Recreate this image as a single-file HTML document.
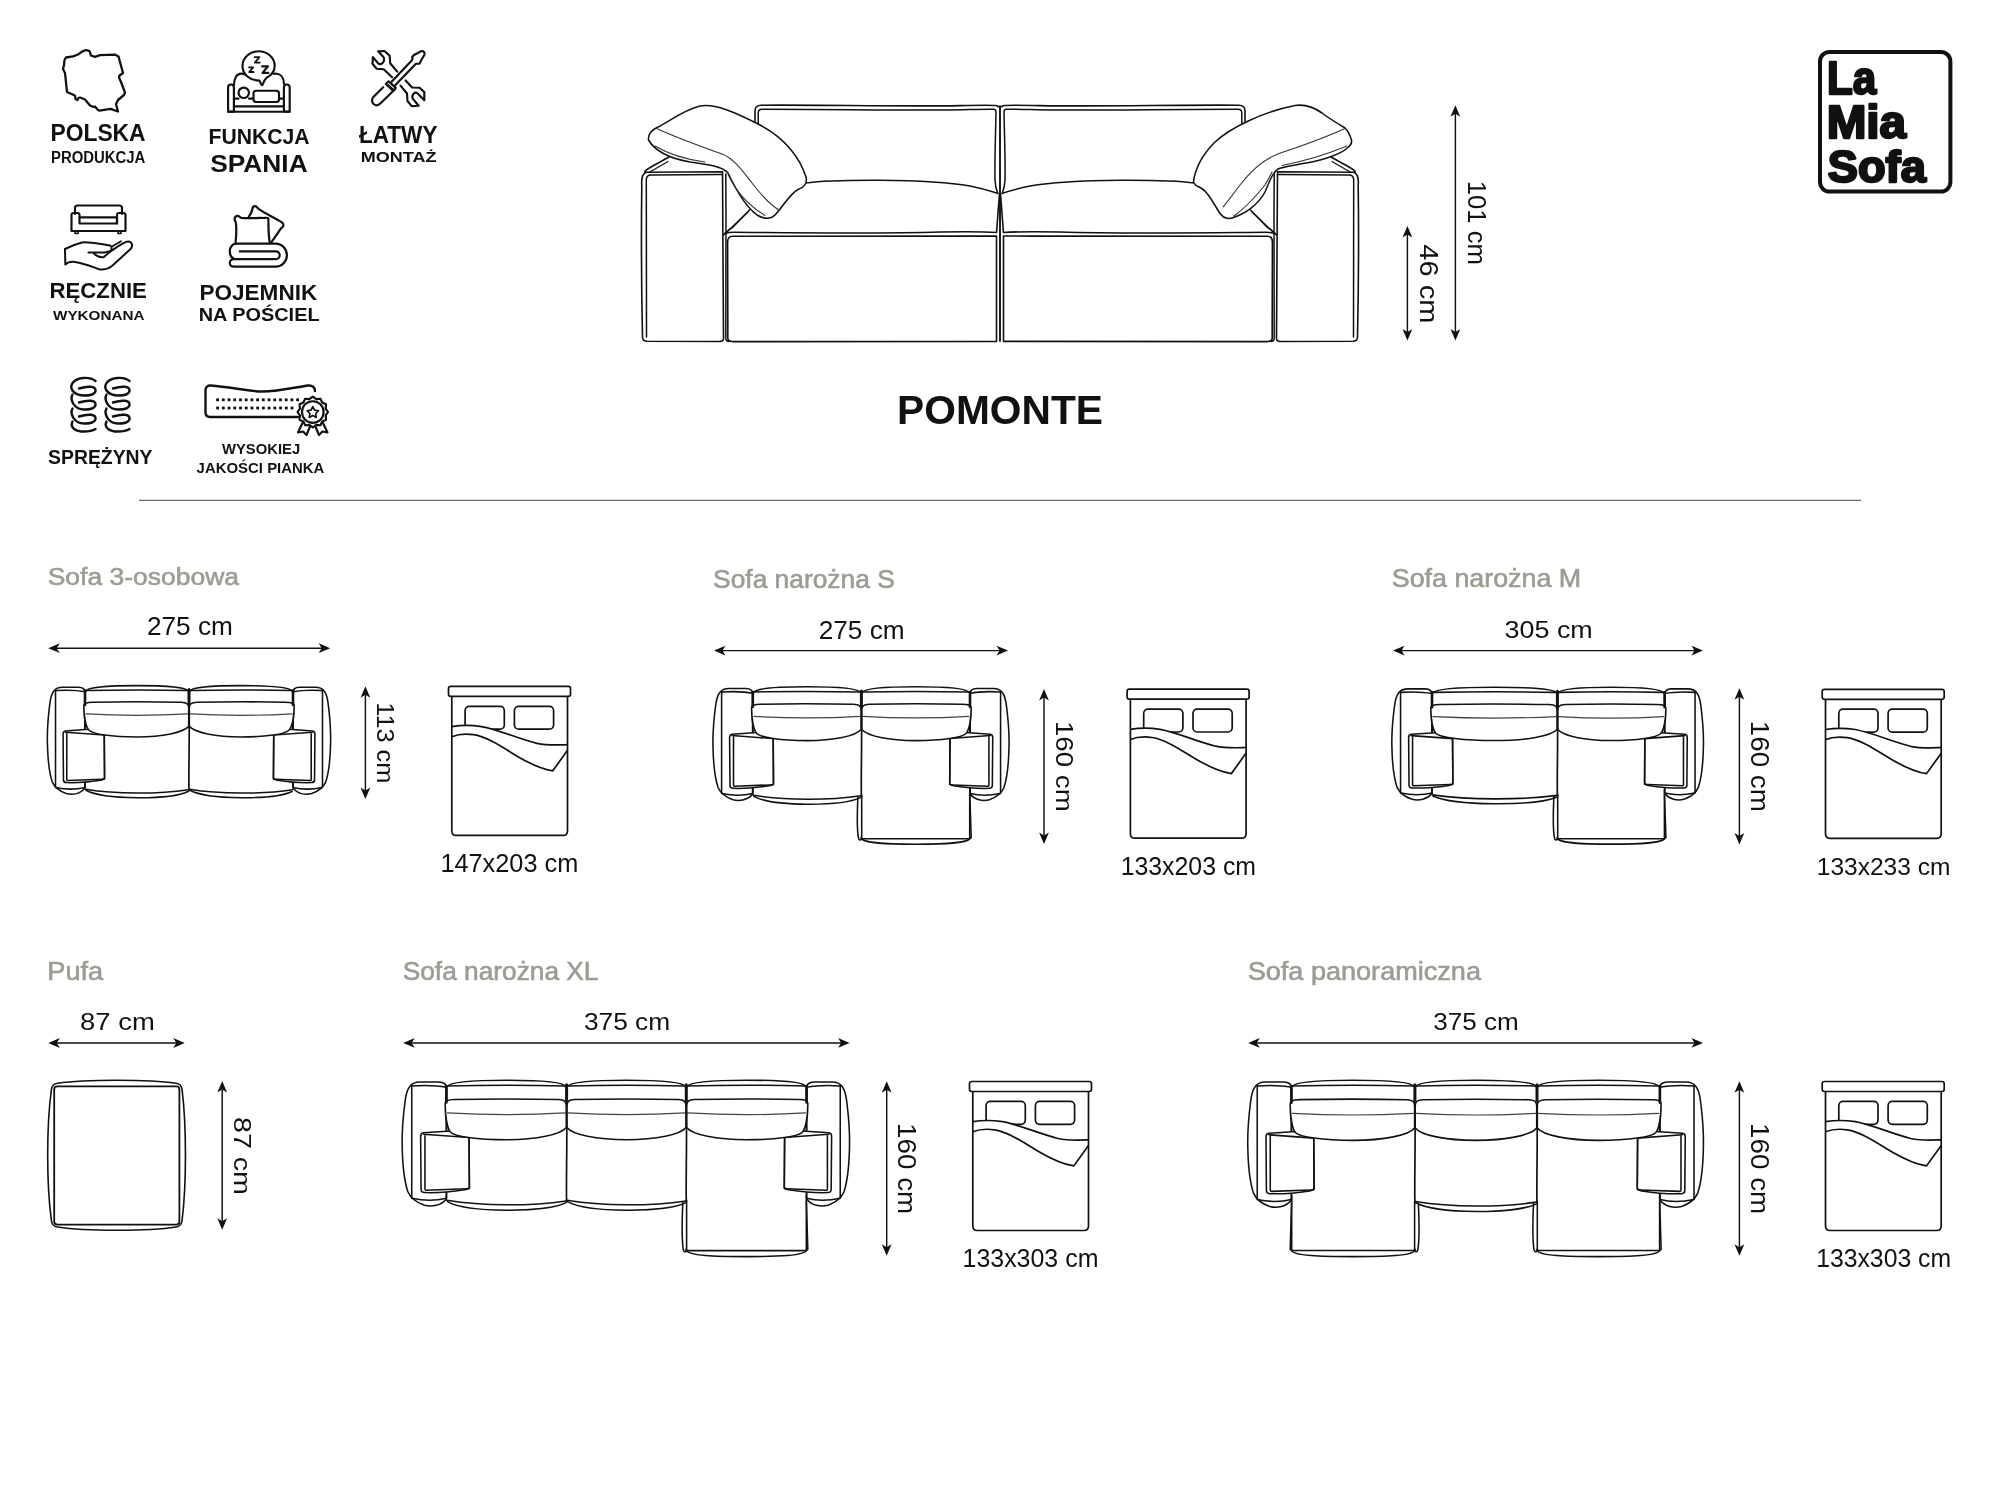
<!DOCTYPE html>
<html><head><meta charset="utf-8"><title>Pomonte</title>
<style>html,body{margin:0;padding:0;background:#fff;width:2000px;height:1500px;overflow:hidden}
text{font-family:"Liberation Sans",sans-serif}</style></head>
<body><svg width="2000" height="1500" viewBox="0 0 2000 1500" style="display:block;will-change:transform">
<defs><g id="bed">
<rect x="1" y="1" width="122" height="10" rx="2.2" fill="#fff" stroke="#111" stroke-width="1.7"/>
<rect x="17.6" y="20.9" width="39.2" height="22.9" rx="4.2" fill="none" stroke="#111" stroke-width="1.7"/>
<rect x="66.9" y="20.9" width="39.2" height="22.9" rx="4.2" fill="none" stroke="#111" stroke-width="1.7"/>
<path d="M4.3 41.2 C14 39.6 24 39.6 34 41.2 C50 44 70 53 89.5 58 C100 60.2 110 59.6 120 59.3 V150 H4.3 Z" fill="#fff"/>
<path d="M4.3 41.2 C14 39.6 24 39.6 34 41.2 C50 44 70 53 89.5 58 C100 60.2 110 59.6 120 59.3" fill="none" stroke="#111" stroke-width="1.7"/>
<path d="M4.3 51.3 C10 49 18 48.2 26 49.3 C40 51.5 55 62 70 71 C82 78 95 84 105.3 85.4 L120 64.9" fill="none" stroke="#111" stroke-width="1.7"/>
<path d="M4.3 11 V145.5 Q4.3 150 8.8 150 H115.5 Q120 150 120 145.5 V11" fill="none" stroke="#111" stroke-width="1.7"/>
</g></defs>
<rect width="2000" height="1500" fill="#fff"/>
<g font-family="Liberation Sans, sans-serif">
<text x="50.46" y="141.00" font-size="24.73" textLength="95.16" lengthAdjust="spacingAndGlyphs" font-weight="bold" fill="#111" >POLSKA</text><text x="50.99" y="163.00" font-size="16.00" textLength="94.40" lengthAdjust="spacingAndGlyphs" font-weight="bold" fill="#111" >PRODUKCJA</text><text x="208.57" y="144.00" font-size="21.82" textLength="101.02" lengthAdjust="spacingAndGlyphs" font-weight="bold" fill="#111" >FUNKCJA</text><text x="210.21" y="171.50" font-size="24.73" textLength="97.49" lengthAdjust="spacingAndGlyphs" font-weight="bold" fill="#111" >SPANIA</text><text x="359.00" y="143.00" font-size="23.27" textLength="78.41" lengthAdjust="spacingAndGlyphs" font-weight="bold" fill="#111" >ŁATWY</text><text x="360.78" y="161.80" font-size="14.98" textLength="75.72" lengthAdjust="spacingAndGlyphs" font-weight="bold" fill="#111" >MONTAŻ</text><text x="49.50" y="298.00" font-size="21.82" textLength="97.37" lengthAdjust="spacingAndGlyphs" font-weight="bold" fill="#111" >RĘCZNIE</text><text x="53.00" y="320.30" font-size="13.53" textLength="91.41" lengthAdjust="spacingAndGlyphs" font-weight="bold" fill="#111" >WYKONANA</text><text x="199.48" y="300.00" font-size="22.55" textLength="117.76" lengthAdjust="spacingAndGlyphs" font-weight="bold" fill="#111" >POJEMNIK</text><text x="198.66" y="320.50" font-size="18.18" textLength="120.94" lengthAdjust="spacingAndGlyphs" font-weight="bold" fill="#111" >NA POŚCIEL</text><text x="48.02" y="463.60" font-size="19.93" textLength="104.52" lengthAdjust="spacingAndGlyphs" font-weight="bold" fill="#111" >SPRĘŻYNY</text><text x="222.00" y="454.40" font-size="15.13" textLength="78.22" lengthAdjust="spacingAndGlyphs" font-weight="bold" fill="#111" >WYSOKIEJ</text><text x="196.58" y="473.20" font-size="15.13" textLength="127.83" lengthAdjust="spacingAndGlyphs" font-weight="bold" fill="#111" >JAKOŚCI PIANKA</text><text x="897.05" y="424.20" font-size="40.73" textLength="205.91" lengthAdjust="spacingAndGlyphs" font-weight="bold" fill="#111" >POMONTE</text><text x="47.71" y="584.90" font-size="24.80" textLength="191.28" lengthAdjust="spacingAndGlyphs" font-weight="normal" fill="#9b9d94" stroke="#9b9d94" stroke-width="0.6">Sofa 3-osobowa</text><text x="713.11" y="587.75" font-size="25.81" textLength="181.60" lengthAdjust="spacingAndGlyphs" font-weight="normal" fill="#9b9d94" stroke="#9b9d94" stroke-width="0.6">Sofa narożna S</text><text x="1391.79" y="587.40" font-size="24.95" textLength="189.41" lengthAdjust="spacingAndGlyphs" font-weight="normal" fill="#9b9d94" stroke="#9b9d94" stroke-width="0.6">Sofa narożna M</text><text x="47.26" y="980.00" font-size="25.09" textLength="55.93" lengthAdjust="spacingAndGlyphs" font-weight="normal" fill="#9b9d94" stroke="#9b9d94" stroke-width="0.6">Pufa</text><text x="402.72" y="980.00" font-size="25.09" textLength="195.73" lengthAdjust="spacingAndGlyphs" font-weight="normal" fill="#9b9d94" stroke="#9b9d94" stroke-width="0.6">Sofa narożna XL</text><text x="1247.68" y="980.00" font-size="25.09" textLength="233.29" lengthAdjust="spacingAndGlyphs" font-weight="normal" fill="#9b9d94" stroke="#9b9d94" stroke-width="0.6">Sofa panoramiczna</text><text x="146.99" y="635.40" font-size="25.38" textLength="85.90" lengthAdjust="spacingAndGlyphs" font-weight="normal" fill="#111" >275 cm</text><text x="818.69" y="638.60" font-size="25.23" textLength="86.00" lengthAdjust="spacingAndGlyphs" font-weight="normal" fill="#111" >275 cm</text><text x="1504.59" y="638.00" font-size="24.37" textLength="88.14" lengthAdjust="spacingAndGlyphs" font-weight="normal" fill="#111" >305 cm</text><text x="80.13" y="1029.50" font-size="24.80" textLength="74.67" lengthAdjust="spacingAndGlyphs" font-weight="normal" fill="#111" >87 cm</text><text x="583.91" y="1029.70" font-size="24.09" textLength="86.18" lengthAdjust="spacingAndGlyphs" font-weight="normal" fill="#111" >375 cm</text><text x="1433.22" y="1029.70" font-size="24.09" textLength="85.45" lengthAdjust="spacingAndGlyphs" font-weight="normal" fill="#111" >375 cm</text><text x="440.40" y="872.10" font-size="25.75" textLength="137.85" lengthAdjust="spacingAndGlyphs" font-weight="normal" fill="#111" >147x203 cm</text><text x="1120.64" y="875.10" font-size="25.45" textLength="135.39" lengthAdjust="spacingAndGlyphs" font-weight="normal" fill="#111" >133x203 cm</text><text x="1816.76" y="874.60" font-size="24.44" textLength="133.64" lengthAdjust="spacingAndGlyphs" font-weight="normal" fill="#111" >133x233 cm</text><text x="962.53" y="1266.70" font-size="24.87" textLength="135.90" lengthAdjust="spacingAndGlyphs" font-weight="normal" fill="#111" >133x303 cm</text><text x="1816.14" y="1266.70" font-size="24.87" textLength="134.98" lengthAdjust="spacingAndGlyphs" font-weight="normal" fill="#111" >133x303 cm</text><text transform="translate(1467.50 180.77) rotate(90)" x="0" y="0" font-size="26.47" textLength="84.18" lengthAdjust="spacingAndGlyphs" font-weight="normal" fill="#111" >101 cm</text><text transform="translate(1419.90 244.35) rotate(90)" x="0" y="0" font-size="25.16" textLength="78.96" lengthAdjust="spacingAndGlyphs" font-weight="normal" fill="#111" >46 cm</text><text transform="translate(377.30 702.20) rotate(90)" x="0" y="0" font-size="24.29" textLength="81.04" lengthAdjust="spacingAndGlyphs" font-weight="normal" fill="#111" >113 cm</text><text transform="translate(1056.00 720.92) rotate(90)" x="0" y="0" font-size="24.73" textLength="90.86" lengthAdjust="spacingAndGlyphs" font-weight="normal" fill="#111" >160 cm</text><text transform="translate(1750.80 720.71) rotate(90)" x="0" y="0" font-size="25.60" textLength="91.17" lengthAdjust="spacingAndGlyphs" font-weight="normal" fill="#111" >160 cm</text><text transform="translate(233.90 1117.09) rotate(90)" x="0" y="0" font-size="24.52" textLength="77.79" lengthAdjust="spacingAndGlyphs" font-weight="normal" fill="#111" >87 cm</text><text transform="translate(898.10 1123.11) rotate(90)" x="0" y="0" font-size="25.60" textLength="91.17" lengthAdjust="spacingAndGlyphs" font-weight="normal" fill="#111" >160 cm</text><text transform="translate(1750.80 1123.11) rotate(90)" x="0" y="0" font-size="25.60" textLength="91.17" lengthAdjust="spacingAndGlyphs" font-weight="normal" fill="#111" >160 cm</text>
<rect x="1820" y="52" width="130.4" height="139.6" rx="9.5" fill="none" stroke="#111" stroke-width="4"/><text x="1827.05" y="94.30" font-size="46.98" textLength="49.22" lengthAdjust="spacingAndGlyphs" font-weight="bold" fill="#111" stroke="#111" stroke-width="2.4" stroke-linejoin="round">La</text><text x="1826.68" y="138.00" font-size="46.25" textLength="79.46" lengthAdjust="spacingAndGlyphs" font-weight="bold" fill="#111" stroke="#111" stroke-width="2.4" stroke-linejoin="round">Mia</text><text x="1827.84" y="181.80" font-size="44.28" textLength="98.01" lengthAdjust="spacingAndGlyphs" font-weight="bold" fill="#111" stroke="#111" stroke-width="2.4" stroke-linejoin="round">Sofa</text>
</g>
<path d="M64.5 60.0 L66.0 57.5 L73.0 56.3 L78.0 54.5 L82.0 51.6 L86.0 50.0 L89.5 51.2 L91.0 55.5 L95.0 56.8 L100.0 55.2 L115.0 54.6 L118.5 56.5 L123.0 73.0 L119.5 75.5 L119.0 77.5 L121.0 82.0 L125.0 92.5 L124.0 95.0 L118.0 100.0 L116.0 104.0 L118.0 111.5 L110.5 108.8 L99.5 110.6 L98.0 110.0 L95.0 106.5 L93.5 107.0 L90.0 105.5 L85.0 99.5 L80.0 97.5 L78.5 98.0 L77.5 100.0 L75.5 99.0 L75.0 95.5 L67.0 92.0 L65.0 73.0 L63.0 69.0 L64.0 65.0 Z" fill="none" stroke="#111" stroke-width="2.3" stroke-linecap="round" stroke-linejoin="round" /><path d="M234 85 C234 78 237 73.8 241 73.6 C242.5 73.5 243.5 73.8 244.3 74.3" fill="none" stroke="#111" stroke-width="2.15" stroke-linecap="round" stroke-linejoin="round" /><path d="M273.3 73.8 C274 73.6 274.8 73.5 275.8 73.5 C280.5 73.8 284 77.5 284 84" fill="none" stroke="#111" stroke-width="2.15" stroke-linecap="round" stroke-linejoin="round" /><path d="M228.1 111.6 V87.5 C228.1 85.6 229.4 84.5 231 84.5 C232.6 84.5 233.9 85.6 233.9 87.5 V111.6 Z" fill="none" stroke="#111" stroke-width="2.15" stroke-linecap="round" stroke-linejoin="round" /><path d="M283.9 111.6 V87.5 C283.9 85.6 285.2 84.5 286.8 84.5 C288.4 84.5 289.7 85.6 289.7 87.5 V111.6 Z" fill="none" stroke="#111" stroke-width="2.15" stroke-linecap="round" stroke-linejoin="round" /><path d="M228.1 111.8 H289.7" fill="none" stroke="#111" stroke-width="2.0" stroke-linecap="round" stroke-linejoin="round" /><path d="M233.9 106.4 H283.9" fill="none" stroke="#111" stroke-width="2.15" stroke-linecap="round" stroke-linejoin="round" /><path d="M233.9 98.6 H238.5 M249 98.6 H253.5 M279 98.6 H283.9" fill="none" stroke="#111" stroke-width="2.15" stroke-linecap="round" stroke-linejoin="round" /><circle cx="243.75" cy="92.8" r="5.2" fill="#fff" stroke="#111" stroke-width="2.15"/><path d="M256.3 90.7 H276.2 Q279 90.7 279 93.5 V99.2 Q279 102 276.2 102 H256.3 Q253.5 102 253.5 99.2 V93.5 Q253.5 90.7 256.3 90.7 Z" fill="#fff" stroke="#111" stroke-width="2.15" stroke-linecap="round" stroke-linejoin="round" /><path d="M259.5 80.6 L261.3 84.6 C261.6 85.3 262.3 85.3 262.6 84.6 C263.5 82 264.8 79.5 266.5 77.8 C271.5 75.2 274.7 70.8 274.7 66 C274.7 57.7 267.5 51.2 258.6 51.2 C249.7 51.2 242.5 57.7 242.5 66 C242.5 74 249 80.3 259.5 80.6 Z" fill="#fff" stroke="#111" stroke-width="2.15" stroke-linecap="round" stroke-linejoin="round" /><path d="M254.6 57.1 H259.4 L254.9 62.6 H259.8" fill="none" stroke="#111" stroke-width="1.8" stroke-linecap="round" stroke-linejoin="round" /><path d="M249 67.3 H253.2 L249.2 72 H253.6" fill="none" stroke="#111" stroke-width="1.8" stroke-linecap="round" stroke-linejoin="round" /><path d="M262.1 66.3 H268 L262.5 72.9 H268.4" fill="none" stroke="#111" stroke-width="2.15" stroke-linecap="round" stroke-linejoin="round" /><path d="M397.2 71.6 L390.2 63.2 L389.7 55.7 L384.6 51.1 L378.1 51.3 L383.2 56.7 C384.6 58.5 384.3 61.6 382.5 63.1 C381 64.3 379 64.1 378.1 63.2 L372.9 57.1 L372.5 63.7 L376.7 68.8 L383.7 69.3 L392.1 77.2" fill="none" stroke="#111" stroke-width="2.15" stroke-linecap="round" stroke-linejoin="round" /><path d="M405.6 80.5 L412.1 87.5 L419.6 87.7 L424.3 92.1 L424.3 100.3 L417.7 93.5 C416.2 92.4 414.2 92.8 413.1 94.3 C412.1 95.8 412.2 97.8 413.1 99.1 L418.7 105.7 L411.7 106.1 L407.5 101 L407 93.5 L400.5 85.6" fill="none" stroke="#111" stroke-width="2.15" stroke-linecap="round" stroke-linejoin="round" /><path d="M383.2 87.2 L373.4 97 C371.5 99 371.6 102.3 373.6 104 C375.7 105.7 378.5 105.4 380.3 103.6 L395.3 88.9" fill="none" stroke="#111" stroke-width="2.15" stroke-linecap="round" stroke-linejoin="round" /><path d="M385.8 84 L388.6 81.4 L395.8 87.9 L393 90.7 Z" fill="none" stroke="#111" stroke-width="2.15" stroke-linecap="round" stroke-linejoin="round" /><path d="M387.9 84.4 L393.6 89.6" fill="none" stroke="#111" stroke-width="1.3" stroke-linecap="round" stroke-linejoin="round" /><path d="M391.1 82.3 L411.7 60.4 L412.6 58.6 L412.2 57 L413.6 55.3 L421 51.3 C422.4 50.7 423.9 51.4 424.4 52.8 C424.7 53.6 424.6 54.4 424.3 55 L420.1 62.3 L419.6 63.7 L415.9 63.7 L394.9 85.6" fill="none" stroke="#111" stroke-width="2.15" stroke-linecap="round" stroke-linejoin="round" /><path d="M75 214 V208 C75 206.5 76 205.5 77.5 205.5 H119.5 C121 205.5 122 206.5 122 208 V214" fill="none" stroke="#111" stroke-width="2.15" stroke-linecap="round" stroke-linejoin="round" /><path d="M71.5 231 V215 C71.5 213.8 72.3 213 73.5 213 H77.5 C78.7 213 79.5 213.8 79.5 215 V223.5 H117 V215 C117 213.8 117.8 213 119 213 H123.5 C124.7 213 125.5 213.8 125.5 215 V231 Z" fill="none" stroke="#111" stroke-width="2.15" stroke-linecap="round" stroke-linejoin="round" /><path d="M79.5 217.3 H117 V223.5" fill="none" stroke="#111" stroke-width="2.15" stroke-linecap="round" stroke-linejoin="round" /><path d="M75 231 V233.5 H78 V231 M118 231 V233.5 H121 V231" fill="none" stroke="#111" stroke-width="1.6" stroke-linecap="round" stroke-linejoin="round" /><path d="M65 249 C65 255 65.3 260 65.3 264.5 C68 262 71 261.5 75 262 C85 263.5 95 268 100 269.5 C104 270 108 269 112 266 L130.5 249 C133.5 246 132 241.5 128 241.5 C124 241.5 115 248.5 110.5 251.5 C108 253.5 106 255 104 257 C101 257.5 97 256.5 94 253.5" fill="none" stroke="#111" stroke-width="2.0" stroke-linecap="round" stroke-linejoin="round" /><path d="M65 249 C70 246.5 78 243.5 82 242.5 C86 241.8 95 243 110 245.5 C112 246 112.5 250 110 251" fill="none" stroke="#111" stroke-width="2.0" stroke-linecap="round" stroke-linejoin="round" /><path d="M88.5 252.5 H104 C106 252.5 107 252 108 251.5" fill="none" stroke="#111" stroke-width="2.15" stroke-linecap="round" stroke-linejoin="round" /><path d="M112 246.5 L121 241.2" fill="none" stroke="#111" stroke-width="1.8" stroke-linecap="round" stroke-linejoin="round" /><path d="M249 216.3 C250.5 214 252 212 252.3 209.5 C252.5 207.5 253.6 206.2 255 206.2 C256.5 206.2 257.3 207.3 258 208.4 C259 209.8 266 213.5 281.2 221.9 C283.5 223 284 225.5 282.6 227 C281.5 228 280.6 228.6 280 229.8 L271.5 242.2" fill="none" stroke="#111" stroke-width="2.2" stroke-linecap="round" stroke-linejoin="round" /><path d="M235.6 242.2 C236.3 236 236.5 229 236 223.5 C235.8 221.5 234.6 220.8 234.6 219.2 C234.6 217 236 215.8 237.8 215.8 C239.2 215.8 239.8 217.6 241.3 217.9 C249 218.6 256 217.8 263.5 218 C265.5 218 267 217.2 268.4 218.3 C268.3 226 268.6 235 269.6 242.2" fill="#fff" stroke="#111" stroke-width="2.2" stroke-linecap="round" stroke-linejoin="round" /><path d="M236 243.7 H275.8 C281.9 243.7 286.9 248.9 286.9 255.2 C286.9 261.5 281.9 266.7 275.8 266.7 H233.6 C231.5 266.7 229.8 265.2 229.8 263.1 C229.8 261 231.5 259.2 233.6 259.2 H275.8 C278 259.2 279.7 257.5 279.7 255.3 C279.7 253.1 278 251.4 275.8 251.4 H239.8" fill="none" stroke="#111" stroke-width="2.2" stroke-linecap="round" stroke-linejoin="round" /><path d="M236 243.7 C232.5 243.9 229.8 247 229.8 251 C229.8 254.8 231.5 257.6 233.6 258.5" fill="none" stroke="#111" stroke-width="2.2" stroke-linecap="round" stroke-linejoin="round" /><g transform="translate(0 0)"><path d="M95.5 381 C90 376.5 76 376.5 72 384 C69 390 76 395.5 84 395.5 C92 395.5 96 393.5 95.5 390 C95 386.5 89 385.5 79 388.5 M72.5 394.5 C69.5 400 74.5 409.5 84 409.5 C92 409.5 96 407.5 95.5 404 C95 400.5 89 399.5 79 402.5 M72.5 408.5 C69.5 414 74.5 423.5 84 423.5 C92 423.5 96 421.5 95.5 418 C95 414.5 89 413.5 79 416.5 M72.5 421.5 C69.5 428 76 431.5 84 431.5 C89 431.5 93 430.5 95.5 429" fill="none" stroke="#111" stroke-width="2.4" stroke-linecap="round" stroke-linejoin="round" /></g><g transform="translate(34 0)"><path d="M95.5 381 C90 376.5 76 376.5 72 384 C69 390 76 395.5 84 395.5 C92 395.5 96 393.5 95.5 390 C95 386.5 89 385.5 79 388.5 M72.5 394.5 C69.5 400 74.5 409.5 84 409.5 C92 409.5 96 407.5 95.5 404 C95 400.5 89 399.5 79 402.5 M72.5 408.5 C69.5 414 74.5 423.5 84 423.5 C92 423.5 96 421.5 95.5 418 C95 414.5 89 413.5 79 416.5 M72.5 421.5 C69.5 428 76 431.5 84 431.5 C89 431.5 93 430.5 95.5 429" fill="none" stroke="#111" stroke-width="2.4" stroke-linecap="round" stroke-linejoin="round" /></g><path d="M298 417 H210 C207 417 205.5 415 205.5 412 V390.5 C205.5 387 207.5 385.3 211 385.5 C230 387 250 391.5 262 391.5 C278 391.5 295 387.5 308 385.5 C312.5 385 315 387.5 315 391" fill="none" stroke="#111" stroke-width="2.4" stroke-linecap="round" stroke-linejoin="round" /><rect x="216.20" y="398.4" width="2.8" height="2.8" fill="#111"/><rect x="221.91" y="398.4" width="2.8" height="2.8" fill="#111"/><rect x="227.63" y="398.4" width="2.8" height="2.8" fill="#111"/><rect x="233.34" y="398.4" width="2.8" height="2.8" fill="#111"/><rect x="239.06" y="398.4" width="2.8" height="2.8" fill="#111"/><rect x="244.77" y="398.4" width="2.8" height="2.8" fill="#111"/><rect x="250.49" y="398.4" width="2.8" height="2.8" fill="#111"/><rect x="256.20" y="398.4" width="2.8" height="2.8" fill="#111"/><rect x="261.91" y="398.4" width="2.8" height="2.8" fill="#111"/><rect x="267.63" y="398.4" width="2.8" height="2.8" fill="#111"/><rect x="273.34" y="398.4" width="2.8" height="2.8" fill="#111"/><rect x="279.06" y="398.4" width="2.8" height="2.8" fill="#111"/><rect x="284.77" y="398.4" width="2.8" height="2.8" fill="#111"/><rect x="290.49" y="398.4" width="2.8" height="2.8" fill="#111"/><rect x="296.20" y="398.4" width="2.8" height="2.8" fill="#111"/><rect x="216.20" y="406.6" width="2.8" height="2.8" fill="#111"/><rect x="221.92" y="406.6" width="2.8" height="2.8" fill="#111"/><rect x="227.65" y="406.6" width="2.8" height="2.8" fill="#111"/><rect x="233.37" y="406.6" width="2.8" height="2.8" fill="#111"/><rect x="239.09" y="406.6" width="2.8" height="2.8" fill="#111"/><rect x="244.82" y="406.6" width="2.8" height="2.8" fill="#111"/><rect x="250.54" y="406.6" width="2.8" height="2.8" fill="#111"/><rect x="256.26" y="406.6" width="2.8" height="2.8" fill="#111"/><rect x="261.98" y="406.6" width="2.8" height="2.8" fill="#111"/><rect x="267.71" y="406.6" width="2.8" height="2.8" fill="#111"/><rect x="273.43" y="406.6" width="2.8" height="2.8" fill="#111"/><rect x="279.15" y="406.6" width="2.8" height="2.8" fill="#111"/><rect x="284.88" y="406.6" width="2.8" height="2.8" fill="#111"/><rect x="290.60" y="406.6" width="2.8" height="2.8" fill="#111"/><path d="M302.5 423 L298 432.5 L303 431.5 L306.5 435 L310 426.5" fill="#fff" stroke="#111" stroke-width="2.15" stroke-linecap="round" stroke-linejoin="round" /><path d="M323 423 L327.5 432.5 L322.5 431.5 L319 435 L315.5 426.5" fill="#fff" stroke="#111" stroke-width="2.15" stroke-linecap="round" stroke-linejoin="round" /><path d="M312.80 396.70 316.24 399.15 320.45 398.75 322.20 402.60 326.05 404.35 325.65 408.56 328.10 412.00 325.65 415.44 326.05 419.65 322.20 421.40 320.45 425.25 316.24 424.85 312.80 427.30 309.36 424.85 305.15 425.25 303.40 421.40 299.55 419.65 299.95 415.44 297.50 412.00 299.95 408.56 299.55 404.35 303.40 402.60 305.15 398.75 309.36 399.15Z" fill="#fff" stroke="#111" stroke-width="2.15" stroke-linecap="round" stroke-linejoin="round" /><circle cx="312.8" cy="412" r="10.8" fill="none" stroke="#111" stroke-width="2.15"/><path d="M312.80 406.60 314.56 410.17 318.51 410.75 315.65 413.53 316.33 417.45 312.80 415.60 309.27 417.45 309.95 413.53 307.09 410.75 311.04 410.17Z" fill="none" stroke="#111" stroke-width="1.7" stroke-linecap="round" stroke-linejoin="round" />
<g><path d="M755 130 V111 C755 107 757 105.2 761 105.2 C820 104.6 900 106.8 960 105.6 C975 105.3 990 105 996 105.5 L999.5 107" fill="none" stroke="#111" stroke-width="1.6" stroke-linecap="round" stroke-linejoin="round" /><path d="M758.2 130 V113 C758.2 110.5 759.5 109.3 762 109.3 C830 109.3 900 110.5 950 110 C970 109.6 985 109 993.5 109.2 C995.5 109.3 996 110.5 996 112 C995.5 140 994.5 160 995 180 C995.2 186 996.5 190 997.5 192.5" fill="none" stroke="#111" stroke-width="1.5" stroke-linecap="round" stroke-linejoin="round" /><path d="M1000 106 V341" fill="none" stroke="#111" stroke-width="1.5" stroke-linecap="round" stroke-linejoin="round" /><path d="M644.5 172 C646 170 648 168.5 651 167 L669 157" fill="none" stroke="#111" stroke-width="1.55" stroke-linecap="round" stroke-linejoin="round" /><path d="M649 172.5 L668 161.5" fill="none" stroke="#111" stroke-width="1.2" stroke-linecap="round" stroke-linejoin="round" /><path d="M641.8 185 C641.2 178 642.5 173 647 172.2 L722.5 171.8 L723.5 338 C723.5 340.5 722.5 341.5 720 341.5 L647 341.3 C644 341.2 642.6 340 642.5 337 C641.5 290 641.2 230 641.8 185 Z" fill="#fff" stroke="#111" stroke-width="1.6" stroke-linecap="round" stroke-linejoin="round" /><path d="M646.5 337 L646.3 180 C646.3 176.5 647.8 175 651 175 L721.5 174.5" fill="none" stroke="#111" stroke-width="1.5" stroke-linecap="round" stroke-linejoin="round" /><path d="M725.8 174 C726.2 230 726 290 725.8 338 C725.8 340.5 727 341.5 729 341.5" fill="none" stroke="#111" stroke-width="1.5" stroke-linecap="round" stroke-linejoin="round" /><path d="M999.6 193.5 C998.5 205 997.5 220 996.6 232" fill="none" stroke="#111" stroke-width="1.6" stroke-linecap="round" stroke-linejoin="round" /><path d="M727.8 338 C728 300 727.5 260 727.6 242 C727.6 238.5 729 236.3 732.5 236.2 C800 235.5 900 236.5 996.5 236 L996.5 341.4 L733 341.6 C729.8 341.6 727.8 340.5 727.8 338 Z" fill="#fff" stroke="#111" stroke-width="1.6" stroke-linecap="round" stroke-linejoin="round" /><path d="M725 233.5 C728 232.5 731 232.2 735 232.3 C800 232.8 880 233.8 940 232 C970 231.5 990 232 996.5 232.5" fill="none" stroke="#111" stroke-width="1.6" stroke-linecap="round" stroke-linejoin="round" /><path d="M723.5 235 C727 231 730 229.5 733 227 L751 208.5" fill="none" stroke="#111" stroke-width="1.6" stroke-linecap="round" stroke-linejoin="round" /><path d="M727.5 231.2 L748 212" fill="none" stroke="#111" stroke-width="1.2" stroke-linecap="round" stroke-linejoin="round" /><path d="M805 183 C820 181 850 180 880 180.2 C920 180.6 950 182.5 970 186 C985 189 992 191.5 998 193.5" fill="none" stroke="#111" stroke-width="1.55" stroke-linecap="round" stroke-linejoin="round" /></g><g transform="matrix(-1 0 0 1 2000 0)"><path d="M755 130 V111 C755 107 757 105.2 761 105.2 C820 104.6 900 106.8 960 105.6 C975 105.3 990 105 996 105.5 L999.5 107" fill="none" stroke="#111" stroke-width="1.6" stroke-linecap="round" stroke-linejoin="round" /><path d="M758.2 130 V113 C758.2 110.5 759.5 109.3 762 109.3 C830 109.3 900 110.5 950 110 C970 109.6 985 109 993.5 109.2 C995.5 109.3 996 110.5 996 112 C995.5 140 994.5 160 995 180 C995.2 186 996.5 190 997.5 192.5" fill="none" stroke="#111" stroke-width="1.5" stroke-linecap="round" stroke-linejoin="round" /><path d="M1000 106 V341" fill="none" stroke="#111" stroke-width="1.5" stroke-linecap="round" stroke-linejoin="round" /><path d="M644.5 172 C646 170 648 168.5 651 167 L669 157" fill="none" stroke="#111" stroke-width="1.55" stroke-linecap="round" stroke-linejoin="round" /><path d="M649 172.5 L668 161.5" fill="none" stroke="#111" stroke-width="1.2" stroke-linecap="round" stroke-linejoin="round" /><path d="M641.8 185 C641.2 178 642.5 173 647 172.2 L722.5 171.8 L723.5 338 C723.5 340.5 722.5 341.5 720 341.5 L647 341.3 C644 341.2 642.6 340 642.5 337 C641.5 290 641.2 230 641.8 185 Z" fill="#fff" stroke="#111" stroke-width="1.6" stroke-linecap="round" stroke-linejoin="round" /><path d="M646.5 337 L646.3 180 C646.3 176.5 647.8 175 651 175 L721.5 174.5" fill="none" stroke="#111" stroke-width="1.5" stroke-linecap="round" stroke-linejoin="round" /><path d="M725.8 174 C726.2 230 726 290 725.8 338 C725.8 340.5 727 341.5 729 341.5" fill="none" stroke="#111" stroke-width="1.5" stroke-linecap="round" stroke-linejoin="round" /><path d="M999.6 193.5 C998.5 205 997.5 220 996.6 232" fill="none" stroke="#111" stroke-width="1.6" stroke-linecap="round" stroke-linejoin="round" /><path d="M727.8 338 C728 300 727.5 260 727.6 242 C727.6 238.5 729 236.3 732.5 236.2 C800 235.5 900 236.5 996.5 236 L996.5 341.4 L733 341.6 C729.8 341.6 727.8 340.5 727.8 338 Z" fill="#fff" stroke="#111" stroke-width="1.6" stroke-linecap="round" stroke-linejoin="round" /><path d="M725 233.5 C728 232.5 731 232.2 735 232.3 C800 232.8 880 233.8 940 232 C970 231.5 990 232 996.5 232.5" fill="none" stroke="#111" stroke-width="1.6" stroke-linecap="round" stroke-linejoin="round" /><path d="M723.5 235 C727 231 730 229.5 733 227 L751 208.5" fill="none" stroke="#111" stroke-width="1.6" stroke-linecap="round" stroke-linejoin="round" /><path d="M727.5 231.2 L748 212" fill="none" stroke="#111" stroke-width="1.2" stroke-linecap="round" stroke-linejoin="round" /><path d="M805 183 C820 181 850 180 880 180.2 C920 180.6 950 182.5 970 186 C985 189 992 191.5 998 193.5" fill="none" stroke="#111" stroke-width="1.55" stroke-linecap="round" stroke-linejoin="round" /></g><path d="M648.5 140 C648 135 651 130.5 657 127.5 C667 123 683 110 700 106 C715 103.5 735 112 760 125 C785 138 800 158 806 177 C807.5 183 804 187.5 798 189.5 C790 193.5 782 208 775 215 C770 220 764 219 757 215 C745 206 736 190 728 173 C722 166 705 164 690 162 C670 158.5 655 151 648.5 140 Z" fill="#fff" stroke="#111" stroke-width="1.55" stroke-linecap="round" stroke-linejoin="round" /><path d="M656.5 128.5 C680 139 705 148 722 154 C733 158 742 170 752 183 C762 196 772 206 779 210" fill="none" stroke="#333" stroke-width="1.1" stroke-linecap="round" stroke-linejoin="round" /><path d="M655 146 C670 155 690 160 705 162" fill="none" stroke="#333" stroke-width="1.1" stroke-linecap="round" stroke-linejoin="round" /><path d="M728 174 C735 190 748 205 765 215.5" fill="none" stroke="#333" stroke-width="1.1" stroke-linecap="round" stroke-linejoin="round" /><path d="M1193.5 181 C1196 165 1205 152 1215 142 C1230 128 1262 112 1295 105.5 C1305 104 1315 108 1322 113 C1330 119 1340 125 1345 128 C1348 131 1350 135 1351.5 140 C1352 143 1350 146 1348 147.5 C1340 155 1320 161 1300 164 C1290 166 1282 167 1278 169 C1273 172 1270 180 1265 192 C1258 205 1245 214 1232 218 C1226 219.5 1222 217 1219 212 C1212 200 1206 190 1200 187.5 C1196 186 1193.5 184 1193.5 181 Z" fill="#fff" stroke="#111" stroke-width="1.55" stroke-linecap="round" stroke-linejoin="round" /><path d="M1345 128.5 C1320 140 1295 148 1278 154 C1262 160 1250 172 1240 185 C1232 196 1227 202 1223 207" fill="none" stroke="#333" stroke-width="1.1" stroke-linecap="round" stroke-linejoin="round" /><path d="M1347 146 C1325 155 1300 162 1282 165.5" fill="none" stroke="#333" stroke-width="1.1" stroke-linecap="round" stroke-linejoin="round" /><path d="M1234 216 C1245 208 1257 195 1265 185 C1268 180 1270 176 1272 172" fill="none" stroke="#333" stroke-width="1.1" stroke-linecap="round" stroke-linejoin="round" />
<line x1="139" y1="500.4" x2="1861.2" y2="500.4" stroke="#6a6a6a" stroke-width="1.2"/>
<line x1="1455.40" y1="111.30" x2="1455.40" y2="334.40" stroke="#111" stroke-width="1.45"/><path d="M1455.40 105.30 L1450.50 116.80 L1455.40 113.80 L1460.30 116.80 Z" fill="#111"/><path d="M1455.40 340.40 L1450.50 328.90 L1455.40 331.90 L1460.30 328.90 Z" fill="#111"/><line x1="1407.40" y1="232.00" x2="1407.40" y2="334.40" stroke="#111" stroke-width="1.45"/><path d="M1407.40 226.00 L1402.50 237.50 L1407.40 234.50 L1412.30 237.50 Z" fill="#111"/><path d="M1407.40 340.40 L1402.50 328.90 L1407.40 331.90 L1412.30 328.90 Z" fill="#111"/><line x1="54.25" y1="648.20" x2="324.20" y2="648.20" stroke="#111" stroke-width="1.45"/><path d="M48.25 648.20 L59.75 643.30 L56.75 648.20 L59.75 653.10 Z" fill="#111"/><path d="M330.20 648.20 L318.70 643.30 L321.70 648.20 L318.70 653.10 Z" fill="#111"/><line x1="365.40" y1="692.30" x2="365.40" y2="792.90" stroke="#111" stroke-width="1.45"/><path d="M365.40 686.30 L360.50 697.80 L365.40 694.80 L370.30 697.80 Z" fill="#111"/><path d="M365.40 798.90 L360.50 787.40 L365.40 790.40 L370.30 787.40 Z" fill="#111"/><line x1="720.00" y1="650.60" x2="1002.00" y2="650.60" stroke="#111" stroke-width="1.45"/><path d="M714.00 650.60 L725.50 645.70 L722.50 650.60 L725.50 655.50 Z" fill="#111"/><path d="M1008.00 650.60 L996.50 645.70 L999.50 650.60 L996.50 655.50 Z" fill="#111"/><line x1="1044.00" y1="695.00" x2="1044.00" y2="838.00" stroke="#111" stroke-width="1.45"/><path d="M1044.00 689.00 L1039.10 700.50 L1044.00 697.50 L1048.90 700.50 Z" fill="#111"/><path d="M1044.00 844.00 L1039.10 832.50 L1044.00 835.50 L1048.90 832.50 Z" fill="#111"/><line x1="1399.00" y1="650.60" x2="1697.00" y2="650.60" stroke="#111" stroke-width="1.45"/><path d="M1393.00 650.60 L1404.50 645.70 L1401.50 650.60 L1404.50 655.50 Z" fill="#111"/><path d="M1703.00 650.60 L1691.50 645.70 L1694.50 650.60 L1691.50 655.50 Z" fill="#111"/><line x1="1739.40" y1="694.30" x2="1739.40" y2="838.60" stroke="#111" stroke-width="1.45"/><path d="M1739.40 688.30 L1734.50 699.80 L1739.40 696.80 L1744.30 699.80 Z" fill="#111"/><path d="M1739.40 844.60 L1734.50 833.10 L1739.40 836.10 L1744.30 833.10 Z" fill="#111"/><line x1="54.30" y1="1043.00" x2="178.80" y2="1043.00" stroke="#111" stroke-width="1.45"/><path d="M48.30 1043.00 L59.80 1038.10 L56.80 1043.00 L59.80 1047.90 Z" fill="#111"/><path d="M184.80 1043.00 L173.30 1038.10 L176.30 1043.00 L173.30 1047.90 Z" fill="#111"/><line x1="222.20" y1="1086.90" x2="222.20" y2="1223.70" stroke="#111" stroke-width="1.45"/><path d="M222.20 1080.90 L217.30 1092.40 L222.20 1089.40 L227.10 1092.40 Z" fill="#111"/><path d="M222.20 1229.70 L217.30 1218.20 L222.20 1221.20 L227.10 1218.20 Z" fill="#111"/><line x1="409.20" y1="1042.90" x2="843.60" y2="1042.90" stroke="#111" stroke-width="1.45"/><path d="M403.20 1042.90 L414.70 1038.00 L411.70 1042.90 L414.70 1047.80 Z" fill="#111"/><path d="M849.60 1042.90 L838.10 1038.00 L841.10 1042.90 L838.10 1047.80 Z" fill="#111"/><line x1="886.70" y1="1087.30" x2="886.70" y2="1249.70" stroke="#111" stroke-width="1.45"/><path d="M886.70 1081.30 L881.80 1092.80 L886.70 1089.80 L891.60 1092.80 Z" fill="#111"/><path d="M886.70 1255.70 L881.80 1244.20 L886.70 1247.20 L891.60 1244.20 Z" fill="#111"/><line x1="1254.20" y1="1042.90" x2="1697.00" y2="1042.90" stroke="#111" stroke-width="1.45"/><path d="M1248.20 1042.90 L1259.70 1038.00 L1256.70 1042.90 L1259.70 1047.80 Z" fill="#111"/><path d="M1703.00 1042.90 L1691.50 1038.00 L1694.50 1042.90 L1691.50 1047.80 Z" fill="#111"/><line x1="1739.40" y1="1087.30" x2="1739.40" y2="1249.70" stroke="#111" stroke-width="1.45"/><path d="M1739.40 1081.30 L1734.50 1092.80 L1739.40 1089.80 L1744.30 1092.80 Z" fill="#111"/><path d="M1739.40 1255.70 L1734.50 1244.20 L1739.40 1247.20 L1744.30 1244.20 Z" fill="#111"/>
<use href="#bed" x="447.50" y="685.40"/><use href="#bed" x="1126.10" y="688.20"/><use href="#bed" x="1821.20" y="688.30"/><use href="#bed" x="968.50" y="1080.50"/><use href="#bed" x="1821.20" y="1080.50"/>
<g><path d="M85.00 692.49 C85.00 689.14 82.35 687.33 78.58 687.23 L62.52 687.23 C54.96 687.23 51.18 691.53 49.76 704.42 C47.87 719.23 47.12 733.55 47.40 743.11 C47.68 757.43 48.82 771.76 52.31 782.07 C54.49 787.04 58.74 790.86 66.29 793.53 C72.91 795.16 80.47 793.72 85.00 787.99" fill="none" stroke="#111" stroke-width="1.55" stroke-linecap="round" stroke-linejoin="round" /><path d="M55.52 690.38 L55.52 787.04" fill="none" stroke="#111" stroke-width="1.55" stroke-linecap="round" stroke-linejoin="round" /><path d="M55.52 690.58 C66.29 689.91 75.74 689.91 85.00 691.72" fill="none" stroke="#111" stroke-width="1.55" stroke-linecap="round" stroke-linejoin="round" /><path d="M55.52 787.52 C66.29 789.71 75.74 789.71 85.00 787.52" fill="none" stroke="#111" stroke-width="1.55" stroke-linecap="round" stroke-linejoin="round" /><path d="M85.00 692.49 L85.00 787.04" fill="none" stroke="#111" stroke-width="2.0" stroke-linecap="round" stroke-linejoin="round" /><path d="M88.97 729.35 L65.35 730.98 C63.93 731.17 63.08 732.12 63.08 734.03 L63.46 779.88 C63.46 781.79 64.41 782.45 66.29 782.55 C77.63 783.03 89.91 781.79 100.78 780.16 L104.56 778.92 L104.27 735.08 Z" fill="#fff" stroke="#fff" stroke-width="0.01" stroke-linecap="round" stroke-linejoin="round" /><path d="M88.97 729.35 L65.35 730.98 C63.93 731.17 63.08 732.12 63.08 734.03 L63.46 779.88 C63.46 781.79 64.41 782.45 66.29 782.55 C77.63 783.03 89.91 781.79 100.78 780.16 L104.56 778.92 L104.27 735.08" fill="none" stroke="#111" stroke-width="1.55" stroke-linecap="round" stroke-linejoin="round" /><path d="M65.54 732.22 L104.27 735.08 L104.56 777.68 C104.56 778.92 103.61 779.21 101.72 779.30 L67.71 780.54 C67.05 780.54 66.77 780.16 66.77 779.40 L66.77 733.08" fill="none" stroke="#111" stroke-width="1.55" stroke-linecap="round" stroke-linejoin="round" /><path d="M293.00 692.49 C293.00 689.14 295.65 687.33 299.42 687.23 L315.48 687.23 C323.04 687.23 326.82 691.53 328.24 704.42 C330.13 719.23 330.88 733.55 330.60 743.11 C330.32 757.43 329.18 771.76 325.69 782.07 C323.51 787.04 319.26 790.86 311.71 793.53 C305.09 795.16 297.53 793.72 293.00 787.99" fill="none" stroke="#111" stroke-width="1.55" stroke-linecap="round" stroke-linejoin="round" /><path d="M322.48 690.38 L322.48 787.04" fill="none" stroke="#111" stroke-width="1.55" stroke-linecap="round" stroke-linejoin="round" /><path d="M322.48 690.58 C311.71 689.91 302.26 689.91 293.00 691.72" fill="none" stroke="#111" stroke-width="1.55" stroke-linecap="round" stroke-linejoin="round" /><path d="M322.48 787.52 C311.71 789.71 302.26 789.71 293.00 787.52" fill="none" stroke="#111" stroke-width="1.55" stroke-linecap="round" stroke-linejoin="round" /><path d="M293.00 692.49 L293.00 787.04" fill="none" stroke="#111" stroke-width="2.0" stroke-linecap="round" stroke-linejoin="round" /><path d="M289.03 729.35 L312.65 730.98 C314.07 731.17 314.92 732.12 314.92 734.03 L314.54 779.88 C314.54 781.79 313.59 782.45 311.71 782.55 C300.37 783.03 288.09 781.79 277.22 780.16 L273.44 778.92 L273.73 735.08 Z" fill="#fff" stroke="#fff" stroke-width="0.01" stroke-linecap="round" stroke-linejoin="round" /><path d="M289.03 729.35 L312.65 730.98 C314.07 731.17 314.92 732.12 314.92 734.03 L314.54 779.88 C314.54 781.79 313.59 782.45 311.71 782.55 C300.37 783.03 288.09 781.79 277.22 780.16 L273.44 778.92 L273.73 735.08" fill="none" stroke="#111" stroke-width="1.55" stroke-linecap="round" stroke-linejoin="round" /><path d="M312.46 732.22 L273.73 735.08 L273.44 777.68 C273.44 778.92 274.39 779.21 276.28 779.30 L310.29 780.54 C310.95 780.54 311.23 780.16 311.23 779.40 L311.23 733.08" fill="none" stroke="#111" stroke-width="1.55" stroke-linecap="round" stroke-linejoin="round" /><path d="M86.00 691.05 C88.00 686.95 111.00 685.61 137.00 685.61 C163.00 685.61 186.00 686.95 188.00 691.05" fill="none" stroke="#111" stroke-width="1.55" stroke-linecap="round" stroke-linejoin="round" /><path d="M86.00 690.58 C116.20 689.91 157.80 689.91 188.00 690.58" fill="none" stroke="#111" stroke-width="1.55" stroke-linecap="round" stroke-linejoin="round" /><path d="M83.80 705.86 C83.60 703.47 86.00 702.42 93.00 702.23 C121.40 701.65 152.60 701.65 181.00 702.32 C187.00 702.61 189.00 703.95 188.70 708.72 L188.70 726.39 C183.00 732.60 163.00 736.99 137.00 736.99 C111.00 736.99 93.00 734.03 89.00 730.21 C85.80 726.87 83.80 716.36 83.80 705.86 Z" fill="#fff" stroke="#111" stroke-width="1.55" stroke-linecap="round" stroke-linejoin="round" /><path d="M86.00 713.88 C116.20 715.60 157.80 715.60 188.00 713.88" fill="none" stroke="#444" stroke-width="1.2" stroke-linecap="round" stroke-linejoin="round" /><path d="M85.50 789.24 C116.20 794.30 157.80 794.30 188.50 789.71" fill="none" stroke="#111" stroke-width="1.55" stroke-linecap="round" stroke-linejoin="round" /><path d="M86.00 790.29 C103.72 800.03 170.28 800.03 188.00 791.43" fill="none" stroke="#111" stroke-width="1.55" stroke-linecap="round" stroke-linejoin="round" /><path d="M190.00 691.05 C192.00 686.95 215.00 685.61 241.00 685.61 C267.00 685.61 290.00 686.95 292.00 691.05" fill="none" stroke="#111" stroke-width="1.55" stroke-linecap="round" stroke-linejoin="round" /><path d="M190.00 690.58 C220.20 689.91 261.80 689.91 292.00 690.58" fill="none" stroke="#111" stroke-width="1.55" stroke-linecap="round" stroke-linejoin="round" /><path d="M189.30 708.72 C189.00 703.95 191.00 702.61 197.00 702.32 C225.40 701.65 256.60 701.65 285.00 702.32 C292.00 702.42 294.40 703.47 294.20 705.86 C294.20 716.36 292.20 726.87 289.00 730.21 C285.00 734.03 267.00 736.99 241.00 736.99 C215.00 736.99 195.00 732.60 189.30 726.39 L189.30 708.72 Z" fill="#fff" stroke="#111" stroke-width="1.55" stroke-linecap="round" stroke-linejoin="round" /><path d="M190.00 713.88 C220.20 715.60 261.80 715.60 292.00 713.88" fill="none" stroke="#444" stroke-width="1.2" stroke-linecap="round" stroke-linejoin="round" /><path d="M189.50 789.24 C220.20 794.30 261.80 794.30 292.50 789.71" fill="none" stroke="#111" stroke-width="1.55" stroke-linecap="round" stroke-linejoin="round" /><path d="M190.00 790.29 C207.72 800.03 274.28 800.03 292.00 791.43" fill="none" stroke="#111" stroke-width="1.55" stroke-linecap="round" stroke-linejoin="round" /><path d="M85.00 690.58 L85.00 704.90" fill="none" stroke="#111" stroke-width="2.6" stroke-linecap="round" stroke-linejoin="round" /><path d="M189.00 689.62 L189.00 702.99" fill="none" stroke="#111" stroke-width="3.0" stroke-linecap="round" stroke-linejoin="round" /><path d="M189.00 702.99 C189.80 743.11 188.40 771.76 189.00 790.86" fill="none" stroke="#111" stroke-width="1.7" stroke-linecap="round" stroke-linejoin="round" /><path d="M293.00 690.58 L293.00 704.90" fill="none" stroke="#111" stroke-width="2.6" stroke-linecap="round" stroke-linejoin="round" /></g><g><path d="M752.80 694.00 C752.80 690.50 750.00 688.60 746.00 688.50 L729.00 688.50 C721.00 688.50 717.00 693.00 715.50 706.50 C713.50 722.00 712.70 737.00 713.00 747.00 C713.30 762.00 714.50 777.00 718.20 787.80 C720.50 793.00 725.00 797.00 733.00 799.80 C740.00 801.50 748.00 800.00 752.80 794.00" fill="none" stroke="#111" stroke-width="1.55" stroke-linecap="round" stroke-linejoin="round" /><path d="M721.60 691.80 L721.60 793.00" fill="none" stroke="#111" stroke-width="1.55" stroke-linecap="round" stroke-linejoin="round" /><path d="M721.60 692.00 C733.00 691.30 743.00 691.30 752.80 693.20" fill="none" stroke="#111" stroke-width="1.55" stroke-linecap="round" stroke-linejoin="round" /><path d="M721.60 793.50 C733.00 795.80 743.00 795.80 752.80 793.50" fill="none" stroke="#111" stroke-width="1.55" stroke-linecap="round" stroke-linejoin="round" /><path d="M752.80 694.00 L752.80 793.00" fill="none" stroke="#111" stroke-width="2.0" stroke-linecap="round" stroke-linejoin="round" /><path d="M757.00 732.60 L732.00 734.30 C730.50 734.50 729.60 735.50 729.60 737.50 L730.00 785.50 C730.00 787.50 731.00 788.20 733.00 788.30 C745.00 788.80 758.00 787.50 769.50 785.80 L773.50 784.50 L773.20 738.60 Z" fill="#fff" stroke="#fff" stroke-width="0.01" stroke-linecap="round" stroke-linejoin="round" /><path d="M757.00 732.60 L732.00 734.30 C730.50 734.50 729.60 735.50 729.60 737.50 L730.00 785.50 C730.00 787.50 731.00 788.20 733.00 788.30 C745.00 788.80 758.00 787.50 769.50 785.80 L773.50 784.50 L773.20 738.60" fill="none" stroke="#111" stroke-width="1.55" stroke-linecap="round" stroke-linejoin="round" /><path d="M732.20 735.60 L773.20 738.60 L773.50 783.20 C773.50 784.50 772.50 784.80 770.50 784.90 L734.50 786.20 C733.80 786.20 733.50 785.80 733.50 785.00 L733.50 736.50" fill="none" stroke="#111" stroke-width="1.55" stroke-linecap="round" stroke-linejoin="round" /><path d="M970.00 694.00 C970.00 690.50 972.74 688.60 976.66 688.50 L993.32 688.50 C1001.16 688.50 1005.08 693.00 1006.55 706.50 C1008.51 722.00 1009.29 737.00 1009.00 747.00 C1008.71 762.00 1007.53 777.00 1003.90 787.80 C1001.65 793.00 997.24 797.00 989.40 799.80 C982.54 801.50 974.70 800.00 970.00 794.00" fill="none" stroke="#111" stroke-width="1.55" stroke-linecap="round" stroke-linejoin="round" /><path d="M1000.57 691.80 L1000.57 793.00" fill="none" stroke="#111" stroke-width="1.55" stroke-linecap="round" stroke-linejoin="round" /><path d="M1000.57 692.00 C989.40 691.30 979.60 691.30 970.00 693.20" fill="none" stroke="#111" stroke-width="1.55" stroke-linecap="round" stroke-linejoin="round" /><path d="M1000.57 793.50 C989.40 795.80 979.60 795.80 970.00 793.50" fill="none" stroke="#111" stroke-width="1.55" stroke-linecap="round" stroke-linejoin="round" /><path d="M970.00 694.00 L970.00 793.00" fill="none" stroke="#111" stroke-width="2.0" stroke-linecap="round" stroke-linejoin="round" /><path d="M965.88 732.60 L990.38 734.30 C991.85 734.50 992.73 735.50 992.73 737.50 L992.34 785.50 C992.34 787.50 991.36 788.20 989.40 788.30 C977.64 788.80 964.90 787.50 953.64 785.80 L949.72 784.50 L950.01 738.60 Z" fill="#fff" stroke="#fff" stroke-width="0.01" stroke-linecap="round" stroke-linejoin="round" /><path d="M965.88 732.60 L990.38 734.30 C991.85 734.50 992.73 735.50 992.73 737.50 L992.34 785.50 C992.34 787.50 991.36 788.20 989.40 788.30 C977.64 788.80 964.90 787.50 953.64 785.80 L949.72 784.50 L950.01 738.60" fill="none" stroke="#111" stroke-width="1.55" stroke-linecap="round" stroke-linejoin="round" /><path d="M990.19 735.60 L950.01 738.60 L949.72 783.20 C949.72 784.50 950.70 784.80 952.66 784.90 L987.93 786.20 C988.62 786.20 988.91 785.80 988.91 785.00 L988.91 736.50" fill="none" stroke="#111" stroke-width="1.55" stroke-linecap="round" stroke-linejoin="round" /><path d="M753.80 692.50 C755.80 688.20 779.95 686.80 807.10 686.80 C834.25 686.80 858.40 688.20 860.40 692.50" fill="none" stroke="#111" stroke-width="1.55" stroke-linecap="round" stroke-linejoin="round" /><path d="M753.80 692.00 C785.38 691.30 828.82 691.30 860.40 692.00" fill="none" stroke="#111" stroke-width="1.55" stroke-linecap="round" stroke-linejoin="round" /><path d="M751.60 708.00 C751.40 705.50 753.80 704.40 760.80 704.20 C790.81 703.60 823.39 703.60 853.40 704.30 C859.40 704.60 861.40 706.00 861.10 711.00 L861.10 729.50 C855.40 736.00 834.25 740.60 807.10 740.60 C779.95 740.60 760.80 737.50 756.80 733.50 C753.60 730.00 751.60 719.00 751.60 708.00 Z" fill="#fff" stroke="#111" stroke-width="1.55" stroke-linecap="round" stroke-linejoin="round" /><path d="M753.80 716.40 C785.38 718.20 828.82 718.20 860.40 716.40" fill="none" stroke="#444" stroke-width="1.2" stroke-linecap="round" stroke-linejoin="round" /><path d="M753.30 795.30 C785.38 800.60 828.82 800.60 860.90 795.80" fill="none" stroke="#111" stroke-width="1.55" stroke-linecap="round" stroke-linejoin="round" /><path d="M753.80 796.40 C772.35 806.60 841.85 806.60 860.40 797.60" fill="none" stroke="#111" stroke-width="1.55" stroke-linecap="round" stroke-linejoin="round" /><path d="M861.70 795.00 L861.70 838.80 L969.70 838.80 L969.70 795.00" fill="none" stroke="#111" stroke-width="1.55" stroke-linecap="round" stroke-linejoin="round" /><path d="M860.90 837.80 C862.40 843.70 888.55 844.20 915.70 844.20 C942.85 844.20 969.00 843.70 970.50 837.80" fill="none" stroke="#111" stroke-width="1.55" stroke-linecap="round" stroke-linejoin="round" /><path d="M857.90 797.00 C857.20 812.00 857.20 830.80 858.40 837.80 C858.90 840.30 860.40 840.80 862.40 838.80" fill="none" stroke="#111" stroke-width="1.55" stroke-linecap="round" stroke-linejoin="round" /><path d="M969.70 791.00 L971.20 837.80" fill="none" stroke="#111" stroke-width="1.55" stroke-linecap="round" stroke-linejoin="round" /><path d="M862.40 692.50 C864.40 688.20 888.55 686.80 915.70 686.80 C942.85 686.80 967.00 688.20 969.00 692.50" fill="none" stroke="#111" stroke-width="1.55" stroke-linecap="round" stroke-linejoin="round" /><path d="M862.40 692.00 C893.98 691.30 937.42 691.30 969.00 692.00" fill="none" stroke="#111" stroke-width="1.55" stroke-linecap="round" stroke-linejoin="round" /><path d="M861.70 711.00 C861.40 706.00 863.40 704.60 869.40 704.30 C899.41 703.60 931.99 703.60 962.00 704.30 C969.00 704.40 971.40 705.50 971.20 708.00 C971.20 719.00 969.20 730.00 966.00 733.50 C962.00 737.50 942.85 740.60 915.70 740.60 C888.55 740.60 867.40 736.00 861.70 729.50 L861.70 711.00 Z" fill="#fff" stroke="#111" stroke-width="1.55" stroke-linecap="round" stroke-linejoin="round" /><path d="M862.40 716.40 C893.98 718.20 937.42 718.20 969.00 716.40" fill="none" stroke="#444" stroke-width="1.2" stroke-linecap="round" stroke-linejoin="round" /><path d="M752.80 692.00 L752.80 707.00" fill="none" stroke="#111" stroke-width="2.6" stroke-linecap="round" stroke-linejoin="round" /><path d="M861.40 691.00 L861.40 705.00" fill="none" stroke="#111" stroke-width="3.0" stroke-linecap="round" stroke-linejoin="round" /><path d="M861.40 705.00 C862.20 747.00 860.80 777.00 861.40 797.00" fill="none" stroke="#111" stroke-width="1.7" stroke-linecap="round" stroke-linejoin="round" /><path d="M970.00 692.00 L970.00 707.00" fill="none" stroke="#111" stroke-width="2.6" stroke-linecap="round" stroke-linejoin="round" /></g><g><path d="M1432.00 694.35 C1432.00 690.87 1429.18 688.99 1425.15 688.89 L1408.02 688.89 C1399.96 688.89 1395.93 693.35 1394.42 706.75 C1392.40 722.13 1391.60 737.02 1391.90 746.94 C1392.20 761.83 1393.41 776.71 1397.14 787.43 C1399.46 792.59 1403.99 796.56 1412.05 799.34 C1419.10 801.03 1427.16 799.54 1432.00 793.58" fill="none" stroke="#111" stroke-width="1.55" stroke-linecap="round" stroke-linejoin="round" /><path d="M1400.56 692.16 L1400.56 792.59" fill="none" stroke="#111" stroke-width="1.55" stroke-linecap="round" stroke-linejoin="round" /><path d="M1400.56 692.36 C1412.05 691.67 1422.13 691.67 1432.00 693.55" fill="none" stroke="#111" stroke-width="1.55" stroke-linecap="round" stroke-linejoin="round" /><path d="M1400.56 793.09 C1412.05 795.37 1422.13 795.37 1432.00 793.09" fill="none" stroke="#111" stroke-width="1.55" stroke-linecap="round" stroke-linejoin="round" /><path d="M1432.00 694.35 L1432.00 792.59" fill="none" stroke="#111" stroke-width="2.0" stroke-linecap="round" stroke-linejoin="round" /><path d="M1436.23 732.65 L1411.04 734.34 C1409.53 734.54 1408.63 735.53 1408.63 737.51 L1409.03 785.15 C1409.03 787.13 1410.04 787.83 1412.05 787.93 C1424.14 788.42 1437.24 787.13 1448.83 785.45 L1452.86 784.16 L1452.55 738.61 Z" fill="#fff" stroke="#fff" stroke-width="0.01" stroke-linecap="round" stroke-linejoin="round" /><path d="M1436.23 732.65 L1411.04 734.34 C1409.53 734.54 1408.63 735.53 1408.63 737.51 L1409.03 785.15 C1409.03 787.13 1410.04 787.83 1412.05 787.93 C1424.14 788.42 1437.24 787.13 1448.83 785.45 L1452.86 784.16 L1452.55 738.61" fill="none" stroke="#111" stroke-width="1.55" stroke-linecap="round" stroke-linejoin="round" /><path d="M1411.24 735.63 L1452.55 738.61 L1452.86 782.87 C1452.86 784.16 1451.85 784.45 1449.83 784.55 L1413.56 785.84 C1412.86 785.84 1412.55 785.45 1412.55 784.65 L1412.55 736.52" fill="none" stroke="#111" stroke-width="1.55" stroke-linecap="round" stroke-linejoin="round" /><path d="M1664.70 694.35 C1664.70 690.87 1667.42 688.99 1671.31 688.89 L1687.84 688.89 C1695.62 688.89 1699.51 693.35 1700.97 706.75 C1702.91 722.13 1703.69 737.02 1703.40 746.94 C1703.11 761.83 1701.94 776.71 1698.34 787.43 C1696.11 792.59 1691.73 796.56 1683.95 799.34 C1677.15 801.03 1669.37 799.54 1664.70 793.58" fill="none" stroke="#111" stroke-width="1.55" stroke-linecap="round" stroke-linejoin="round" /><path d="M1695.04 692.16 L1695.04 792.59" fill="none" stroke="#111" stroke-width="1.55" stroke-linecap="round" stroke-linejoin="round" /><path d="M1695.04 692.36 C1683.95 691.67 1674.23 691.67 1664.70 693.55" fill="none" stroke="#111" stroke-width="1.55" stroke-linecap="round" stroke-linejoin="round" /><path d="M1695.04 793.09 C1683.95 795.37 1674.23 795.37 1664.70 793.09" fill="none" stroke="#111" stroke-width="1.55" stroke-linecap="round" stroke-linejoin="round" /><path d="M1664.70 694.35 L1664.70 792.59" fill="none" stroke="#111" stroke-width="2.0" stroke-linecap="round" stroke-linejoin="round" /><path d="M1660.62 732.65 L1684.93 734.34 C1686.38 734.54 1687.26 735.53 1687.26 737.51 L1686.87 785.15 C1686.87 787.13 1685.90 787.83 1683.95 787.93 C1672.28 788.42 1659.64 787.13 1648.46 785.45 L1644.57 784.16 L1644.86 738.61 Z" fill="#fff" stroke="#fff" stroke-width="0.01" stroke-linecap="round" stroke-linejoin="round" /><path d="M1660.62 732.65 L1684.93 734.34 C1686.38 734.54 1687.26 735.53 1687.26 737.51 L1686.87 785.15 C1686.87 787.13 1685.90 787.83 1683.95 787.93 C1672.28 788.42 1659.64 787.13 1648.46 785.45 L1644.57 784.16 L1644.86 738.61" fill="none" stroke="#111" stroke-width="1.55" stroke-linecap="round" stroke-linejoin="round" /><path d="M1684.73 735.63 L1644.86 738.61 L1644.57 782.87 C1644.57 784.16 1645.54 784.45 1647.49 784.55 L1682.49 785.84 C1683.17 785.84 1683.47 785.45 1683.47 784.65 L1683.47 736.52" fill="none" stroke="#111" stroke-width="1.55" stroke-linecap="round" stroke-linejoin="round" /><path d="M1433.00 692.86 C1435.00 688.59 1463.35 687.20 1494.70 687.20 C1526.05 687.20 1554.40 688.59 1556.40 692.86" fill="none" stroke="#111" stroke-width="1.55" stroke-linecap="round" stroke-linejoin="round" /><path d="M1433.00 692.36 C1469.62 691.67 1519.78 691.67 1556.40 692.36" fill="none" stroke="#111" stroke-width="1.55" stroke-linecap="round" stroke-linejoin="round" /><path d="M1430.80 708.24 C1430.60 705.76 1433.00 704.67 1440.00 704.47 C1475.89 703.87 1513.51 703.87 1549.40 704.57 C1555.40 704.87 1557.40 706.26 1557.10 711.22 L1557.10 729.58 C1551.40 736.03 1526.05 740.59 1494.70 740.59 C1463.35 740.59 1440.00 737.51 1436.00 733.55 C1432.80 730.07 1430.80 719.16 1430.80 708.24 Z" fill="#fff" stroke="#111" stroke-width="1.55" stroke-linecap="round" stroke-linejoin="round" /><path d="M1433.00 716.58 C1469.62 718.36 1519.78 718.36 1556.40 716.58" fill="none" stroke="#444" stroke-width="1.2" stroke-linecap="round" stroke-linejoin="round" /><path d="M1432.50 794.87 C1469.62 800.13 1519.78 800.13 1556.90 795.37" fill="none" stroke="#111" stroke-width="1.55" stroke-linecap="round" stroke-linejoin="round" /><path d="M1433.00 795.97 C1454.57 806.09 1534.83 806.09 1556.40 797.16" fill="none" stroke="#111" stroke-width="1.55" stroke-linecap="round" stroke-linejoin="round" /><path d="M1557.70 794.58 L1557.70 838.74 L1664.40 838.74 L1664.40 794.58" fill="none" stroke="#111" stroke-width="1.55" stroke-linecap="round" stroke-linejoin="round" /><path d="M1556.90 837.74 C1558.40 843.60 1584.23 844.10 1611.05 844.10 C1637.88 844.10 1663.70 843.60 1665.20 837.74" fill="none" stroke="#111" stroke-width="1.55" stroke-linecap="round" stroke-linejoin="round" /><path d="M1553.90 796.56 C1553.20 811.45 1553.20 830.74 1554.40 837.74 C1554.90 840.24 1556.40 840.74 1558.40 838.74" fill="none" stroke="#111" stroke-width="1.55" stroke-linecap="round" stroke-linejoin="round" /><path d="M1664.40 790.61 L1665.90 837.74" fill="none" stroke="#111" stroke-width="1.55" stroke-linecap="round" stroke-linejoin="round" /><path d="M1558.40 692.86 C1560.40 688.59 1584.23 687.20 1611.05 687.20 C1637.88 687.20 1661.70 688.59 1663.70 692.86" fill="none" stroke="#111" stroke-width="1.55" stroke-linecap="round" stroke-linejoin="round" /><path d="M1558.40 692.36 C1589.59 691.67 1632.51 691.67 1663.70 692.36" fill="none" stroke="#111" stroke-width="1.55" stroke-linecap="round" stroke-linejoin="round" /><path d="M1557.70 711.22 C1557.40 706.26 1559.40 704.87 1565.40 704.57 C1594.96 703.87 1627.14 703.87 1656.70 704.57 C1663.70 704.67 1666.10 705.76 1665.90 708.24 C1665.90 719.16 1663.90 730.07 1660.70 733.55 C1656.70 737.51 1637.88 740.59 1611.05 740.59 C1584.23 740.59 1563.40 736.03 1557.70 729.58 L1557.70 711.22 Z" fill="#fff" stroke="#111" stroke-width="1.55" stroke-linecap="round" stroke-linejoin="round" /><path d="M1558.40 716.58 C1589.59 718.36 1632.51 718.36 1663.70 716.58" fill="none" stroke="#444" stroke-width="1.2" stroke-linecap="round" stroke-linejoin="round" /><path d="M1432.00 692.36 L1432.00 707.25" fill="none" stroke="#111" stroke-width="2.6" stroke-linecap="round" stroke-linejoin="round" /><path d="M1557.40 691.37 L1557.40 705.26" fill="none" stroke="#111" stroke-width="3.0" stroke-linecap="round" stroke-linejoin="round" /><path d="M1557.40 705.26 C1558.20 746.94 1556.80 776.71 1557.40 796.56" fill="none" stroke="#111" stroke-width="1.7" stroke-linecap="round" stroke-linejoin="round" /><path d="M1664.70 692.36 L1664.70 707.25" fill="none" stroke="#111" stroke-width="2.6" stroke-linecap="round" stroke-linejoin="round" /></g><g><path d="M446.40 1088.15 C446.40 1084.28 443.29 1082.17 438.85 1082.06 L419.97 1082.06 C411.08 1082.06 406.64 1087.05 404.98 1102.00 C402.76 1119.17 401.87 1135.78 402.20 1146.86 C402.53 1163.47 403.87 1180.09 407.97 1192.05 C410.53 1197.81 415.53 1202.24 424.41 1205.34 C432.18 1207.22 441.07 1205.56 446.40 1198.92" fill="none" stroke="#111" stroke-width="1.55" stroke-linecap="round" stroke-linejoin="round" /><path d="M411.75 1085.72 L411.75 1197.81" fill="none" stroke="#111" stroke-width="1.55" stroke-linecap="round" stroke-linejoin="round" /><path d="M411.75 1085.94 C424.41 1085.16 435.52 1085.16 446.40 1087.27" fill="none" stroke="#111" stroke-width="1.55" stroke-linecap="round" stroke-linejoin="round" /><path d="M411.75 1198.36 C424.41 1200.91 435.52 1200.91 446.40 1198.36" fill="none" stroke="#111" stroke-width="1.55" stroke-linecap="round" stroke-linejoin="round" /><path d="M446.40 1088.15 L446.40 1197.81" fill="none" stroke="#111" stroke-width="2.0" stroke-linecap="round" stroke-linejoin="round" /><path d="M451.06 1130.91 L423.30 1132.79 C421.63 1133.01 420.64 1134.12 420.64 1136.34 L421.08 1189.50 C421.08 1191.72 422.19 1192.49 424.41 1192.60 C437.74 1193.16 452.17 1191.72 464.95 1189.83 L469.39 1188.39 L469.06 1137.55 Z" fill="#fff" stroke="#fff" stroke-width="0.01" stroke-linecap="round" stroke-linejoin="round" /><path d="M451.06 1130.91 L423.30 1132.79 C421.63 1133.01 420.64 1134.12 420.64 1136.34 L421.08 1189.50 C421.08 1191.72 422.19 1192.49 424.41 1192.60 C437.74 1193.16 452.17 1191.72 464.95 1189.83 L469.39 1188.39 L469.06 1137.55" fill="none" stroke="#111" stroke-width="1.55" stroke-linecap="round" stroke-linejoin="round" /><path d="M423.52 1134.23 L469.06 1137.55 L469.39 1186.95 C469.39 1188.39 468.28 1188.73 466.06 1188.84 L426.08 1190.28 C425.30 1190.28 424.97 1189.83 424.97 1188.95 L424.97 1135.23" fill="none" stroke="#111" stroke-width="1.55" stroke-linecap="round" stroke-linejoin="round" /><path d="M806.60 1088.15 C806.60 1084.28 809.62 1082.17 813.93 1082.06 L832.25 1082.06 C840.88 1082.06 845.19 1087.05 846.81 1102.00 C848.96 1119.17 849.82 1135.78 849.50 1146.86 C849.18 1163.47 847.88 1180.09 843.89 1192.05 C841.42 1197.81 836.57 1202.24 827.94 1205.34 C820.40 1207.22 811.77 1205.56 806.60 1198.92" fill="none" stroke="#111" stroke-width="1.55" stroke-linecap="round" stroke-linejoin="round" /><path d="M840.23 1085.72 L840.23 1197.81" fill="none" stroke="#111" stroke-width="1.55" stroke-linecap="round" stroke-linejoin="round" /><path d="M840.23 1085.94 C827.94 1085.16 817.16 1085.16 806.60 1087.27" fill="none" stroke="#111" stroke-width="1.55" stroke-linecap="round" stroke-linejoin="round" /><path d="M840.23 1198.36 C827.94 1200.91 817.16 1200.91 806.60 1198.36" fill="none" stroke="#111" stroke-width="1.55" stroke-linecap="round" stroke-linejoin="round" /><path d="M806.60 1088.15 L806.60 1197.81" fill="none" stroke="#111" stroke-width="2.0" stroke-linecap="round" stroke-linejoin="round" /><path d="M802.07 1130.91 L829.02 1132.79 C830.64 1133.01 831.61 1134.12 831.61 1136.34 L831.18 1189.50 C831.18 1191.72 830.10 1192.49 827.94 1192.60 C815.01 1193.16 800.99 1191.72 788.60 1189.83 L784.29 1188.39 L784.61 1137.55 Z" fill="#fff" stroke="#fff" stroke-width="0.01" stroke-linecap="round" stroke-linejoin="round" /><path d="M802.07 1130.91 L829.02 1132.79 C830.64 1133.01 831.61 1134.12 831.61 1136.34 L831.18 1189.50 C831.18 1191.72 830.10 1192.49 827.94 1192.60 C815.01 1193.16 800.99 1191.72 788.60 1189.83 L784.29 1188.39 L784.61 1137.55" fill="none" stroke="#111" stroke-width="1.55" stroke-linecap="round" stroke-linejoin="round" /><path d="M828.80 1134.23 L784.61 1137.55 L784.29 1186.95 C784.29 1188.39 785.37 1188.73 787.52 1188.84 L826.33 1190.28 C827.08 1190.28 827.40 1189.83 827.40 1188.95 L827.40 1135.23" fill="none" stroke="#111" stroke-width="1.55" stroke-linecap="round" stroke-linejoin="round" /><path d="M447.40 1086.49 C449.40 1081.73 476.45 1080.18 506.50 1080.18 C536.55 1080.18 563.60 1081.73 565.60 1086.49" fill="none" stroke="#111" stroke-width="1.55" stroke-linecap="round" stroke-linejoin="round" /><path d="M447.40 1085.94 C482.46 1085.16 530.54 1085.16 565.60 1085.94" fill="none" stroke="#111" stroke-width="1.55" stroke-linecap="round" stroke-linejoin="round" /><path d="M445.20 1103.66 C445.00 1100.89 447.40 1099.67 454.40 1099.45 C488.47 1098.79 524.53 1098.79 558.60 1099.56 C564.60 1099.89 566.60 1101.44 566.30 1106.98 L566.30 1127.47 C560.60 1134.67 536.55 1139.77 506.50 1139.77 C476.45 1139.77 454.40 1136.34 450.40 1131.90 C447.20 1128.03 445.20 1115.84 445.20 1103.66 Z" fill="#fff" stroke="#111" stroke-width="1.55" stroke-linecap="round" stroke-linejoin="round" /><path d="M447.40 1112.96 C482.46 1114.96 530.54 1114.96 565.60 1112.96" fill="none" stroke="#444" stroke-width="1.2" stroke-linecap="round" stroke-linejoin="round" /><path d="M446.90 1200.36 C482.46 1206.23 530.54 1206.23 566.10 1200.91" fill="none" stroke="#111" stroke-width="1.55" stroke-linecap="round" stroke-linejoin="round" /><path d="M447.40 1201.57 C468.04 1212.87 544.96 1212.87 565.60 1202.90" fill="none" stroke="#111" stroke-width="1.55" stroke-linecap="round" stroke-linejoin="round" /><path d="M567.60 1086.49 C569.60 1081.73 596.52 1080.18 626.45 1080.18 C656.38 1080.18 683.30 1081.73 685.30 1086.49" fill="none" stroke="#111" stroke-width="1.55" stroke-linecap="round" stroke-linejoin="round" /><path d="M567.60 1085.94 C602.51 1085.16 650.39 1085.16 685.30 1085.94" fill="none" stroke="#111" stroke-width="1.55" stroke-linecap="round" stroke-linejoin="round" /><path d="M566.90 1106.98 C566.60 1101.44 568.60 1099.89 574.60 1099.56 C608.50 1098.79 644.40 1098.79 678.30 1099.56 C684.30 1099.89 686.30 1101.44 686.00 1106.98 L686.00 1127.47 C680.30 1134.67 656.38 1139.77 626.45 1139.77 C596.52 1139.77 572.60 1134.67 566.90 1127.47 L566.90 1106.98 Z" fill="#fff" stroke="#111" stroke-width="1.55" stroke-linecap="round" stroke-linejoin="round" /><path d="M567.60 1112.96 C602.51 1114.96 650.39 1114.96 685.30 1112.96" fill="none" stroke="#444" stroke-width="1.2" stroke-linecap="round" stroke-linejoin="round" /><path d="M567.10 1200.36 C602.51 1206.23 650.39 1206.23 685.80 1200.91" fill="none" stroke="#111" stroke-width="1.55" stroke-linecap="round" stroke-linejoin="round" /><path d="M567.60 1201.57 C588.15 1212.87 664.75 1212.87 685.30 1202.90" fill="none" stroke="#111" stroke-width="1.55" stroke-linecap="round" stroke-linejoin="round" /><path d="M686.60 1200.02 L686.60 1250.62 L806.30 1250.62 L806.30 1200.02" fill="none" stroke="#111" stroke-width="1.55" stroke-linecap="round" stroke-linejoin="round" /><path d="M685.80 1249.62 C687.30 1256.10 716.38 1256.60 746.45 1256.60 C776.52 1256.60 805.60 1256.10 807.10 1249.62" fill="none" stroke="#111" stroke-width="1.55" stroke-linecap="round" stroke-linejoin="round" /><path d="M682.80 1202.24 C682.10 1218.85 682.10 1242.62 683.30 1249.62 C683.80 1252.12 685.30 1252.62 687.30 1250.62" fill="none" stroke="#111" stroke-width="1.55" stroke-linecap="round" stroke-linejoin="round" /><path d="M806.30 1195.59 L807.80 1249.62" fill="none" stroke="#111" stroke-width="1.55" stroke-linecap="round" stroke-linejoin="round" /><path d="M687.30 1086.49 C689.30 1081.73 716.38 1080.18 746.45 1080.18 C776.52 1080.18 803.60 1081.73 805.60 1086.49" fill="none" stroke="#111" stroke-width="1.55" stroke-linecap="round" stroke-linejoin="round" /><path d="M687.30 1085.94 C722.39 1085.16 770.51 1085.16 805.60 1085.94" fill="none" stroke="#111" stroke-width="1.55" stroke-linecap="round" stroke-linejoin="round" /><path d="M686.60 1106.98 C686.30 1101.44 688.30 1099.89 694.30 1099.56 C728.40 1098.79 764.50 1098.79 798.60 1099.56 C805.60 1099.67 808.00 1100.89 807.80 1103.66 C807.80 1115.84 805.80 1128.03 802.60 1131.90 C798.60 1136.34 776.52 1139.77 746.45 1139.77 C716.38 1139.77 692.30 1134.67 686.60 1127.47 L686.60 1106.98 Z" fill="#fff" stroke="#111" stroke-width="1.55" stroke-linecap="round" stroke-linejoin="round" /><path d="M687.30 1112.96 C722.39 1114.96 770.51 1114.96 805.60 1112.96" fill="none" stroke="#444" stroke-width="1.2" stroke-linecap="round" stroke-linejoin="round" /><path d="M446.40 1085.94 L446.40 1102.55" fill="none" stroke="#111" stroke-width="2.6" stroke-linecap="round" stroke-linejoin="round" /><path d="M566.60 1084.83 L566.60 1100.34" fill="none" stroke="#111" stroke-width="3.0" stroke-linecap="round" stroke-linejoin="round" /><path d="M566.60 1100.34 C567.40 1146.86 566.00 1180.09 566.60 1202.24" fill="none" stroke="#111" stroke-width="1.7" stroke-linecap="round" stroke-linejoin="round" /><path d="M686.30 1084.83 L686.30 1100.34" fill="none" stroke="#111" stroke-width="3.0" stroke-linecap="round" stroke-linejoin="round" /><path d="M686.30 1100.34 C687.10 1146.86 685.70 1180.09 686.30 1202.24" fill="none" stroke="#111" stroke-width="1.7" stroke-linecap="round" stroke-linejoin="round" /><path d="M806.60 1085.94 L806.60 1102.55" fill="none" stroke="#111" stroke-width="2.6" stroke-linecap="round" stroke-linejoin="round" /></g><g><path d="M1291.40 1088.23 C1291.40 1084.32 1288.33 1082.19 1283.95 1082.08 L1265.33 1082.08 C1256.56 1082.08 1252.18 1087.11 1250.54 1102.21 C1248.35 1119.55 1247.47 1136.33 1247.80 1147.52 C1248.13 1164.30 1249.44 1181.08 1253.50 1193.16 C1256.02 1198.98 1260.95 1203.45 1269.71 1206.58 C1277.38 1208.48 1286.14 1206.81 1291.40 1200.09" fill="none" stroke="#111" stroke-width="1.55" stroke-linecap="round" stroke-linejoin="round" /><path d="M1257.22 1085.77 L1257.22 1198.98" fill="none" stroke="#111" stroke-width="1.55" stroke-linecap="round" stroke-linejoin="round" /><path d="M1257.22 1085.99 C1269.71 1085.21 1280.66 1085.21 1291.40 1087.34" fill="none" stroke="#111" stroke-width="1.55" stroke-linecap="round" stroke-linejoin="round" /><path d="M1257.22 1199.54 C1269.71 1202.11 1280.66 1202.11 1291.40 1199.54" fill="none" stroke="#111" stroke-width="1.55" stroke-linecap="round" stroke-linejoin="round" /><path d="M1291.40 1088.23 L1291.40 1198.98" fill="none" stroke="#111" stroke-width="2.0" stroke-linecap="round" stroke-linejoin="round" /><path d="M1296.00 1131.41 L1268.61 1133.31 C1266.97 1133.54 1265.98 1134.65 1265.98 1136.89 L1266.42 1190.59 C1266.42 1192.82 1267.52 1193.61 1269.71 1193.72 C1282.86 1194.28 1297.10 1192.82 1309.69 1190.92 L1314.08 1189.47 L1313.75 1138.12 Z" fill="#fff" stroke="#fff" stroke-width="0.01" stroke-linecap="round" stroke-linejoin="round" /><path d="M1296.00 1131.41 L1268.61 1133.31 C1266.97 1133.54 1265.98 1134.65 1265.98 1136.89 L1266.42 1190.59 C1266.42 1192.82 1267.52 1193.61 1269.71 1193.72 C1282.86 1194.28 1297.10 1192.82 1309.69 1190.92 L1314.08 1189.47 L1313.75 1138.12" fill="none" stroke="#111" stroke-width="1.55" stroke-linecap="round" stroke-linejoin="round" /><path d="M1268.83 1134.77 L1313.75 1138.12 L1314.08 1188.01 C1314.08 1189.47 1312.98 1189.80 1310.79 1189.92 L1271.35 1191.37 C1270.59 1191.37 1270.26 1190.92 1270.26 1190.03 L1270.26 1135.77" fill="none" stroke="#111" stroke-width="1.55" stroke-linecap="round" stroke-linejoin="round" /><path d="M1659.90 1088.23 C1659.90 1084.32 1662.96 1082.19 1667.33 1082.08 L1685.91 1082.08 C1694.66 1082.08 1699.03 1087.11 1700.67 1102.21 C1702.85 1119.55 1703.73 1136.33 1703.40 1147.52 C1703.07 1164.30 1701.76 1181.08 1697.72 1193.16 C1695.20 1198.98 1690.28 1203.45 1681.54 1206.58 C1673.89 1208.48 1665.15 1206.81 1659.90 1200.09" fill="none" stroke="#111" stroke-width="1.55" stroke-linecap="round" stroke-linejoin="round" /><path d="M1694.00 1085.77 L1694.00 1198.98" fill="none" stroke="#111" stroke-width="1.55" stroke-linecap="round" stroke-linejoin="round" /><path d="M1694.00 1085.99 C1681.54 1085.21 1670.61 1085.21 1659.90 1087.34" fill="none" stroke="#111" stroke-width="1.55" stroke-linecap="round" stroke-linejoin="round" /><path d="M1694.00 1199.54 C1681.54 1202.11 1670.61 1202.11 1659.90 1199.54" fill="none" stroke="#111" stroke-width="1.55" stroke-linecap="round" stroke-linejoin="round" /><path d="M1659.90 1088.23 L1659.90 1198.98" fill="none" stroke="#111" stroke-width="2.0" stroke-linecap="round" stroke-linejoin="round" /><path d="M1655.31 1131.41 L1682.63 1133.31 C1684.27 1133.54 1685.26 1134.65 1685.26 1136.89 L1684.82 1190.59 C1684.82 1192.82 1683.73 1193.61 1681.54 1193.72 C1668.43 1194.28 1654.22 1192.82 1641.65 1190.92 L1637.28 1189.47 L1637.60 1138.12 Z" fill="#fff" stroke="#fff" stroke-width="0.01" stroke-linecap="round" stroke-linejoin="round" /><path d="M1655.31 1131.41 L1682.63 1133.31 C1684.27 1133.54 1685.26 1134.65 1685.26 1136.89 L1684.82 1190.59 C1684.82 1192.82 1683.73 1193.61 1681.54 1193.72 C1668.43 1194.28 1654.22 1192.82 1641.65 1190.92 L1637.28 1189.47 L1637.60 1138.12" fill="none" stroke="#111" stroke-width="1.55" stroke-linecap="round" stroke-linejoin="round" /><path d="M1682.42 1134.77 L1637.60 1138.12 L1637.28 1188.01 C1637.28 1189.47 1638.37 1189.80 1640.55 1189.92 L1679.90 1191.37 C1680.67 1191.37 1680.99 1190.92 1680.99 1190.03 L1680.99 1135.77" fill="none" stroke="#111" stroke-width="1.55" stroke-linecap="round" stroke-linejoin="round" /><path d="M1291.70 1201.21 L1291.70 1250.56 L1414.60 1250.56 L1414.60 1201.21" fill="none" stroke="#111" stroke-width="1.55" stroke-linecap="round" stroke-linejoin="round" /><path d="M1290.90 1249.56 C1292.40 1256.10 1322.28 1256.60 1353.15 1256.60 C1384.03 1256.60 1413.90 1256.10 1415.40 1249.56" fill="none" stroke="#111" stroke-width="1.55" stroke-linecap="round" stroke-linejoin="round" /><path d="M1418.40 1203.45 C1419.10 1220.23 1419.10 1242.56 1417.90 1249.56 C1417.40 1252.06 1415.90 1252.56 1413.90 1250.56" fill="none" stroke="#111" stroke-width="1.55" stroke-linecap="round" stroke-linejoin="round" /><path d="M1291.70 1196.74 L1290.20 1249.56" fill="none" stroke="#111" stroke-width="1.55" stroke-linecap="round" stroke-linejoin="round" /><path d="M1292.40 1086.55 C1294.40 1081.74 1322.28 1080.18 1353.15 1080.18 C1384.03 1080.18 1411.90 1081.74 1413.90 1086.55" fill="none" stroke="#111" stroke-width="1.55" stroke-linecap="round" stroke-linejoin="round" /><path d="M1292.40 1085.99 C1328.45 1085.21 1377.85 1085.21 1413.90 1085.99" fill="none" stroke="#111" stroke-width="1.55" stroke-linecap="round" stroke-linejoin="round" /><path d="M1290.20 1103.89 C1290.00 1101.09 1292.40 1099.86 1299.40 1099.64 C1334.62 1098.97 1371.68 1098.97 1406.90 1099.75 C1412.90 1100.09 1414.90 1101.65 1414.60 1107.25 L1414.60 1127.94 C1408.90 1135.21 1384.03 1140.36 1353.15 1140.36 C1322.28 1140.36 1299.40 1136.89 1295.40 1132.42 C1292.20 1128.50 1290.20 1116.20 1290.20 1103.89 Z" fill="#fff" stroke="#111" stroke-width="1.55" stroke-linecap="round" stroke-linejoin="round" /><path d="M1292.40 1113.29 C1328.45 1115.30 1377.85 1115.30 1413.90 1113.29" fill="none" stroke="#444" stroke-width="1.2" stroke-linecap="round" stroke-linejoin="round" /><path d="M1415.90 1086.55 C1417.90 1081.74 1445.43 1080.18 1475.95 1080.18 C1506.47 1080.18 1534.00 1081.74 1536.00 1086.55" fill="none" stroke="#111" stroke-width="1.55" stroke-linecap="round" stroke-linejoin="round" /><path d="M1415.90 1085.99 C1451.53 1085.21 1500.37 1085.21 1536.00 1085.99" fill="none" stroke="#111" stroke-width="1.55" stroke-linecap="round" stroke-linejoin="round" /><path d="M1415.20 1107.25 C1414.90 1101.65 1416.90 1100.09 1422.90 1099.75 C1457.63 1098.97 1494.27 1098.97 1529.00 1099.75 C1535.00 1100.09 1537.00 1101.65 1536.70 1107.25 L1536.70 1127.94 C1531.00 1135.21 1506.47 1140.36 1475.95 1140.36 C1445.43 1140.36 1420.90 1135.21 1415.20 1127.94 L1415.20 1107.25 Z" fill="#fff" stroke="#111" stroke-width="1.55" stroke-linecap="round" stroke-linejoin="round" /><path d="M1415.90 1113.29 C1451.53 1115.30 1500.37 1115.30 1536.00 1113.29" fill="none" stroke="#444" stroke-width="1.2" stroke-linecap="round" stroke-linejoin="round" /><path d="M1415.40 1201.55 C1451.53 1207.48 1500.37 1207.48 1536.50 1202.11" fill="none" stroke="#111" stroke-width="1.55" stroke-linecap="round" stroke-linejoin="round" /><path d="M1415.90 1202.78 C1436.88 1214.19 1515.02 1214.19 1536.00 1204.12" fill="none" stroke="#111" stroke-width="1.55" stroke-linecap="round" stroke-linejoin="round" /><path d="M1537.30 1201.21 L1537.30 1250.56 L1659.60 1250.56 L1659.60 1201.21" fill="none" stroke="#111" stroke-width="1.55" stroke-linecap="round" stroke-linejoin="round" /><path d="M1536.50 1249.56 C1538.00 1256.10 1567.72 1256.60 1598.45 1256.60 C1629.18 1256.60 1658.90 1256.10 1660.40 1249.56" fill="none" stroke="#111" stroke-width="1.55" stroke-linecap="round" stroke-linejoin="round" /><path d="M1533.50 1203.45 C1532.80 1220.23 1532.80 1242.56 1534.00 1249.56 C1534.50 1252.06 1536.00 1252.56 1538.00 1250.56" fill="none" stroke="#111" stroke-width="1.55" stroke-linecap="round" stroke-linejoin="round" /><path d="M1659.60 1196.74 L1661.10 1249.56" fill="none" stroke="#111" stroke-width="1.55" stroke-linecap="round" stroke-linejoin="round" /><path d="M1538.00 1086.55 C1540.00 1081.74 1567.72 1080.18 1598.45 1080.18 C1629.18 1080.18 1656.90 1081.74 1658.90 1086.55" fill="none" stroke="#111" stroke-width="1.55" stroke-linecap="round" stroke-linejoin="round" /><path d="M1538.00 1085.99 C1573.87 1085.21 1623.03 1085.21 1658.90 1085.99" fill="none" stroke="#111" stroke-width="1.55" stroke-linecap="round" stroke-linejoin="round" /><path d="M1537.30 1107.25 C1537.00 1101.65 1539.00 1100.09 1545.00 1099.75 C1580.02 1098.97 1616.88 1098.97 1651.90 1099.75 C1658.90 1099.86 1661.30 1101.09 1661.10 1103.89 C1661.10 1116.20 1659.10 1128.50 1655.90 1132.42 C1651.90 1136.89 1629.18 1140.36 1598.45 1140.36 C1567.72 1140.36 1543.00 1135.21 1537.30 1127.94 L1537.30 1107.25 Z" fill="#fff" stroke="#111" stroke-width="1.55" stroke-linecap="round" stroke-linejoin="round" /><path d="M1538.00 1113.29 C1573.87 1115.30 1623.03 1115.30 1658.90 1113.29" fill="none" stroke="#444" stroke-width="1.2" stroke-linecap="round" stroke-linejoin="round" /><path d="M1291.40 1085.99 L1291.40 1102.77" fill="none" stroke="#111" stroke-width="2.6" stroke-linecap="round" stroke-linejoin="round" /><path d="M1414.90 1084.87 L1414.90 1100.54" fill="none" stroke="#111" stroke-width="3.0" stroke-linecap="round" stroke-linejoin="round" /><path d="M1414.90 1100.54 C1415.70 1147.52 1414.30 1181.08 1414.90 1203.45" fill="none" stroke="#111" stroke-width="1.7" stroke-linecap="round" stroke-linejoin="round" /><path d="M1537.00 1084.87 L1537.00 1100.54" fill="none" stroke="#111" stroke-width="3.0" stroke-linecap="round" stroke-linejoin="round" /><path d="M1537.00 1100.54 C1537.80 1147.52 1536.40 1181.08 1537.00 1203.45" fill="none" stroke="#111" stroke-width="1.7" stroke-linecap="round" stroke-linejoin="round" /><path d="M1659.90 1085.99 L1659.90 1102.77" fill="none" stroke="#111" stroke-width="2.6" stroke-linecap="round" stroke-linejoin="round" /></g>
<g><path d="M57.5 1083.2 C85 1079.3 149 1079.3 176 1083.2 C179.5 1083.7 181.5 1085.8 182 1089 C186.6 1125 186.6 1185 182 1221 C181.5 1224.3 179.5 1226.5 176 1227 C149 1231.3 85 1231.3 57.5 1227 C54 1226.5 52 1224.3 51.5 1221 C46.4 1185 46.4 1125 51.5 1089 C52 1085.8 54 1083.7 57.5 1083.2 Z" fill="none" stroke="#111" stroke-width="1.6" stroke-linecap="round" stroke-linejoin="round" /><path d="M57.5 1086.3 H176.4 Q179.4 1086.3 179.4 1089.3 V1221.6 Q179.4 1224.6 176.4 1224.6 H57.5 Q54.2 1224.6 54.2 1221.6 V1089.3 Q54.2 1086.3 57.5 1086.3 Z" fill="none" stroke="#111" stroke-width="1.8" stroke-linecap="round" stroke-linejoin="round" /></g>
</svg></body></html>
